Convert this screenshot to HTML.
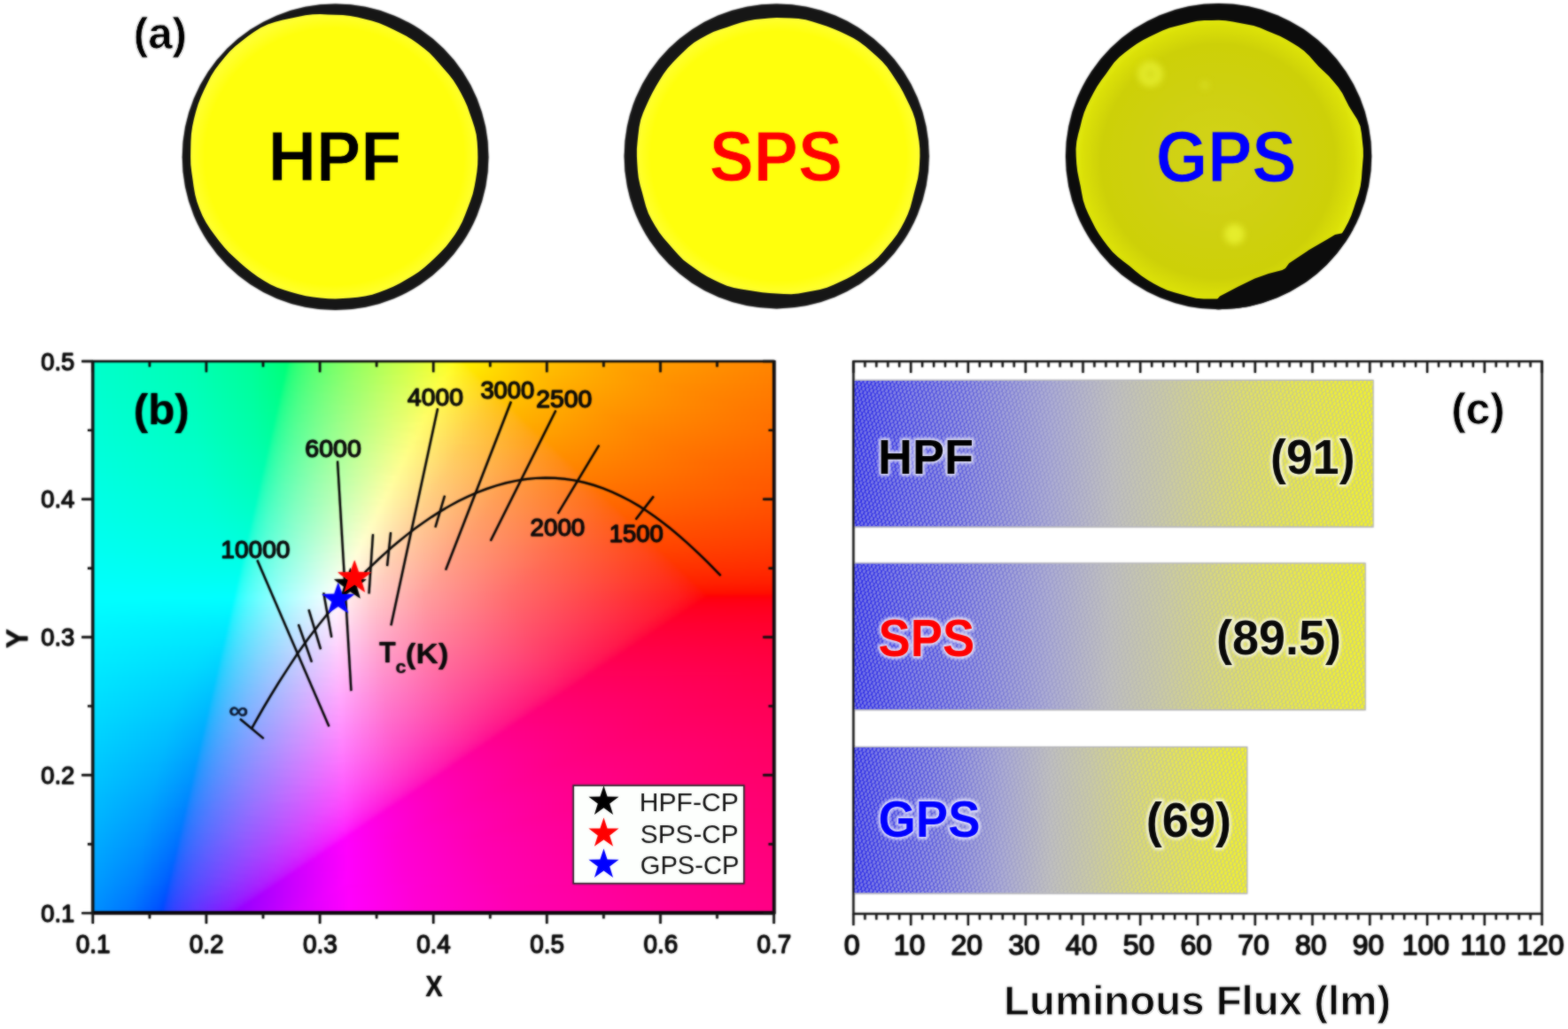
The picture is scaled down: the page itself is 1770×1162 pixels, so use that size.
<!DOCTYPE html>
<html lang="en"><head><meta charset="utf-8"><title>Figure</title>
<style>
html,body{margin:0;padding:0;background:#fff;overflow:hidden}
#fig{position:relative;width:1770px;height:1162px;overflow:hidden;background:#fff;font-family:"Liberation Sans", Arial, Helvetica, sans-serif}
.cf i{display:block;height:3px}
svg{position:absolute;left:0;top:0}
svg text{font-family:"Liberation Sans", Arial, Helvetica, sans-serif}
</style></head><body>
<div id="fig">
<div style="position:absolute;left:104.8px;top:408.0px;width:768.8000000000001px;height:623.0999999999999px;overflow:hidden">
<div class="cf" style="position:absolute;left:-9px;top:-9px;width:786.8000000000001px;filter:blur(1.5px)">
<i style="background:linear-gradient(90deg,#00ffcb 0px,#00ffb3 121px,#00ff95 189px,#00ff76 228px,#00ff72 231px,#13ff71 233px,#2eff70 240px,#55ff6b 259px,#8cff5e 300px,#d6ff3c 373px,#f4ff20 406px,#feff0c 416px,#fffe00 418px,#ffd600 475px,#ffb200 564px,#ff9100 706px,#ff8400 787px)"></i>
<i style="background:linear-gradient(90deg,#0fc 0px,#00ffb3 121px,#00ff96 189px,#00ff76 228px,#00ff74 230px,#17ff73 233px,#32ff71 241px,#5bff6b 262px,#95ff5d 307px,#dbff3c 377px,#f9ff1f 410px,#fffc0c 419px,#fffa00 421px,#ffd200 480px,#ffae00 572px,#ff8e00 720px,#ff8400 787px)"></i>
<i style="background:linear-gradient(90deg,#0fc 0px,#00ffb4 121px,#00ff97 189px,#0f7 228px,#00ff75 230px,#0fff74 231px,#26ff73 236px,#4aff6f 251px,#7cff66 285px,#c9ff49 357px,#f4ff2a 403px,#fffc17 417px,#fff709 423px,#fff500 425px,#ffce00 486px,#fa0 582px,#ff8a00 737px,#ff8300 787px)"></i>
<i style="background:linear-gradient(90deg,#00ffcd 0px,#00ffb4 121px,#00ff97 189px,#00ff78 228px,#0f7 229px,#14ff76 231px,#2eff74 238px,#55ff6f 257px,#8dff63 298px,#dbff42 375px,#feff24 412px,#fff40c 425px,#fff100 428px,#ffcb00 491px,#ffa700 590px,#ff8700 751px,#ff8200 787px)"></i>
<i style="background:linear-gradient(90deg,#00ffcd 0px,#00ffb5 121px,#00ff98 189px,#00ff78 228px,#17ff77 231px,#33ff75 239px,#5cff70 260px,#96ff62 305px,#e1ff41 380px,#fffd25 414px,#fff00d 428px,#fe0 431px,#ffc700 496px,#ffa400 599px,#ff8400 767px,#ff8100 787px)"></i>
<i style="background:linear-gradient(90deg,#00ffce 0px,#00ffb5 121px,#0f9 189px,#00ff7a 227px,#03ff79 228px,#0fff79 229px,#26ff78 234px,#4aff74 249px,#7dff6b 283px,#cbff50 355px,#fcff30 407px,#fff117 426px,#ffec0a 432px,#ffea00 434px,#ffc400 500px,#ffa100 605px,#ff8200 777px,#ff8100 787px)"></i>
<i style="background:linear-gradient(90deg,#00ffce 0px,#00ffb6 122px,#0f9 189px,#00ff7b 227px,#0dff7a 228px,#22ff79 232px,#44ff76 245px,#74ff6e 275px,#bbff59 338px,#f7ff38 400px,#fffc2e 412px,#ffea12 432px,#ffe706 436px,#ffe700 437px,#ffc100 505px,#ff9e00 614px,#ff8000 787px)"></i>
<i style="background:linear-gradient(90deg,#00ffce 0px,#00ffb6 122px,#00ff9a 189px,#00ff7d 226px,#18ff7b 229px,#33ff7a 237px,#5cff74 258px,#97ff67 303px,#e8ff46 383px,#fffd33 410px,#ffe814 434px,#ffe406 439px,#ffe300 440px,#ffbe00 510px,#ff9b00 622px,#ff7f00 787px)"></i>
<i style="background:linear-gradient(90deg,#00ffcf 0px,#00ffb7 122px,#00ff9b 189px,#00ff7e 225px,#04ff7d 226px,#10ff7d 227px,#27ff7c 232px,#4bff78 247px,#7eff70 281px,#cdff57 353px,#fffd37 408px,#ffe515 436px,#ffe107 442px,#ffe000 443px,#fb0 516px,#ff9800 631px,#ff7e00 787px)"></i>
<i style="background:linear-gradient(90deg,#00ffcf 0px,#00ffb7 122px,#00ff9b 189px,#00ff7f 225px,#0dff7f 226px,#22ff7e 230px,#44ff7b 243px,#75ff73 273px,#bdff5f 336px,#feff3e 403px,#ffe319 437px,#ffdd07 445px,#ffdc00 446px,#ffb700 521px,#ff9600 639px,#ff7d00 787px)"></i>
<i style="background:linear-gradient(90deg,#00ffd0 0px,#00ffb8 122px,#00ff9c 189px,#00ff81 224px,#18ff80 227px,#34ff7e 235px,#5dff79 256px,#98ff6d 301px,#efff4a 386px,#fffc3d 406px,#ffdf17 441px,#ffda08 448px,#ffd900 449px,#ffb400 526px,#ff9300 648px,#ff7d00 787px)"></i>
<i style="background:linear-gradient(90deg,#00ffd0 0px,#00ffb9 122px,#00ff9d 189px,#00ff82 223px,#06ff82 224px,#17ff81 226px,#33ff7f 234px,#5bff7b 254px,#96ff6f 298px,#efff4d 385px,#fffd41 404px,#ffdc18 443px,#ffd708 451px,#ffd500 453px,#ffb100 532px,#ff9000 658px,#ff7c00 787px)"></i>
<i style="background:linear-gradient(90deg,#00ffd1 0px,#00ffb9 122px,#00ff9d 189px,#00ff83 223px,#0eff83 224px,#23ff82 228px,#45ff7f 241px,#76ff78 271px,#beff65 334px,#fffd45 402px,#ffda1a 445px,#ffd408 454px,#ffd200 456px,#ffae00 537px,#ff8d00 667px,#ff7b00 787px)"></i>
<i style="background:linear-gradient(90deg,#00ffd1 0px,#00ffba 122px,#00ff9e 189px,#00ff85 222px,#13ff84 224px,#2cff83 230px,#52ff7f 247px,#88ff76 284px,#dfff5b 365px,#fffd48 401px,#ffd61a 448px,#ffd009 457px,#ffcf00 459px,#ffab00 542px,#ff8b00 676px,#ff7a00 787px)"></i>
<i style="background:linear-gradient(90deg,#00ffd2 0px,#00ffba 123px,#00ff9e 190px,#00ff87 221px,#17ff85 224px,#34ff84 232px,#5cff7f 252px,#96ff74 295px,#f5ff52 387px,#fffc4a 400px,#ffd41b 450px,#ffcd09 460px,#fc0 462px,#ffa900 547px,#f80 685px,#ff7900 787px)"></i>
<i style="background:linear-gradient(90deg,#00ffd2 0px,#0fb 123px,#00ff9f 190px,#00ff87 221px,#0eff87 222px,#23ff86 226px,#46ff84 239px,#77ff7d 269px,#c0ff6b 332px,#fffd4e 398px,#ffd11b 453px,#ffca09 463px,#ffc900 465px,#ffa600 553px,#ff8600 695px,#ff7900 787px)"></i>
<i style="background:linear-gradient(90deg,#00ffd2 0px,#0fb 123px,#00ff9f 190px,#00ff89 220px,#14ff88 222px,#2cff87 228px,#53ff84 245px,#89ff7b 282px,#e1ff61 363px,#fffd51 396px,#ffce1c 455px,#ffc709 466px,#ffc600 468px,#ffa300 558px,#ff8300 704px,#ff7800 787px)"></i>
<i style="background:linear-gradient(90deg,#00ffd3 0px,#00ffbc 123px,#00ffa0 190px,#00ff8b 219px,#18ff8a 222px,#34ff88 230px,#5dff84 250px,#97ff79 293px,#fcff57 389px,#fff44c 404px,#ffcb1b 459px,#ffc50a 469px,#ffc300 471px,#ffa100 563px,#ff8100 713px,#f70 787px)"></i>
<i style="background:linear-gradient(90deg,#00ffd3 0px,#00ffbc 123px,#00ffa1 190px,#00ff8c 219px,#0fff8b 220px,#27ff8a 225px,#4aff88 239px,#7dff80 271px,#cbff6d 339px,#fffd57 393px,#ffcd23 454px,#ffc20c 471px,#ffc100 474px,#ff9e00 568px,#ff7f00 722px,#ff7600 787px)"></i>
<i style="background:linear-gradient(90deg,#00ffd4 0px,#00ffbd 123px,#00ffa2 190px,#00ff8d 218px,#14ff8d 220px,#2dff8b 226px,#54ff88 243px,#8aff80 280px,#e3ff67 361px,#fffd59 392px,#ffcd28 452px,#ffc00f 473px,#ffbe07 476px,#ffbe00 477px,#ff9c00 573px,#ff7d00 732px,#ff7500 787px)"></i>
<i style="background:linear-gradient(90deg,#00ffd4 0px,#00ffbd 124px,#00ffa2 190px,#00ff8f 217px,#18ff8e 220px,#35ff8c 228px,#5eff88 248px,#99ff7e 291px,#ffff5e 388px,#ffcf2f 447px,#ffbe12 474px,#ffbc07 479px,#fb0 481px,#f90 580px,#ff7a00 744px,#ff7500 787px)"></i>
<i style="background:linear-gradient(90deg,#00ffd5 0px,#00ffbe 124px,#00ffa3 190px,#01ff90 217px,#10ff90 218px,#28ff8f 223px,#4bff8c 237px,#7eff85 269px,#cdff73 337px,#fffd5e 389px,#ffcc2f 449px,#ffbc12 477px,#ffb700 485px,#ff9600 587px,#f70 757px,#ff7400 787px)"></i>
<i style="background:linear-gradient(90deg,#00ffd5 0px,#00ffbf 124px,#00ffa4 190px,#00ff91 216px,#0dff91 217px,#23ff90 221px,#44ff8e 233px,#74ff88 261px,#bcff7a 320px,#fffd61 387px,#ffcd34 446px,#ffba14 479px,#ffb608 485px,#ffb500 487px,#ff9400 591px,#ff7500 765px,#ff7300 787px)"></i>
<i style="background:linear-gradient(90deg,#00ffd6 0px,#00ffbf 124px,#00ffa5 190px,#00ff93 215px,#19ff92 218px,#35ff91 226px,#5eff8d 246px,#9aff83 289px,#fffe65 384px,#ffcf39 442px,#ffb715 481px,#ffb408 488px,#ffb300 490px,#ff9100 596px,#ff7300 774px,#ff7200 787px)"></i>
<i style="background:linear-gradient(90deg,#00ffd6 0px,#00ffc0 124px,#00ffa5 190px,#00ff95 214px,#04ff94 215px,#10ff94 216px,#28ff93 221px,#4cff90 235px,#7fff8a 267px,#cfff78 335px,#fffd67 384px,#ffcd3a 443px,#ffb517 483px,#ffb108 491px,#ffb000 493px,#ff8f00 601px,#ff7100 784px,#ff7100 787px)"></i>
<i style="background:linear-gradient(90deg,#00ffd7 0px,#00ffc0 125px,#00ffa6 191px,#00ff96 214px,#0eff95 215px,#24ff95 219px,#45ff92 231px,#75ff8d 259px,#beff7f 318px,#fffd69 383px,#ffcc3c 442px,#ffb317 486px,#ffae05 495px,#ffae00 496px,#ff8d00 607px,#ff7000 787px)"></i>
<i style="background:linear-gradient(90deg,#00ffd7 0px,#00ffc1 125px,#00ffa7 191px,#00ff97 213px,#19ff96 216px,#36ff95 224px,#5fff91 244px,#9bff88 287px,#ffff6d 379px,#ffcf42 436px,#ffb119 487px,#ffac09 497px,#ffab00 499px,#ff8b00 612px,#ff6f00 787px)"></i>
<i style="background:linear-gradient(90deg,#00ffd8 0px,#00ffc2 125px,#00ffa7 191px,#0f9 212px,#05ff98 213px,#17ff98 215px,#32ff97 222px,#5aff93 240px,#93ff8b 279px,#f6ff73 369px,#fffb6d 381px,#ffcb41 440px,#ffae19 490px,#ffa909 500px,#ffa800 502px,#f80 618px,#ff6e00 787px)"></i>
<i style="background:linear-gradient(90deg,#00ffd8 0px,#00ffc2 125px,#00ffa8 191px,#00ff9a 212px,#0eff9a 213px,#24ff99 217px,#46ff97 229px,#76ff92 257px,#bfff84 316px,#fffd70 378px,#ffcd45 436px,#ffac1a 492px,#ffa709 503px,#ffa600 505px,#ff8600 623px,#ff6e00 787px)"></i>
<i style="background:linear-gradient(90deg,#00ffd9 0px,#00ffc3 125px,#00ffa9 191px,#00ff9c 211px,#14ff9b 213px,#2eff9a 219px,#54ff97 235px,#8aff90 270px,#e2ff7d 347px,#fffc72 377px,#ffcc48 435px,#ffaa1a 495px,#ffa407 507px,#ffa400 508px,#ff8400 629px,#ff6d00 787px)"></i>
<i style="background:linear-gradient(90deg,#00ffd9 0px,#00ffc3 126px,#00ffa9 192px,#00ff9d 210px,#18ff9c 213px,#33ff9b 220px,#5bff98 238px,#94ff90 277px,#f9ff79 367px,#fffb73 377px,#ffcb49 435px,#ffa81b 497px,#ffa207 510px,#ffa100 513px,#ff8100 636px,#ff6c00 787px)"></i>
<i style="background:linear-gradient(90deg,#00ffda 0px,#00ffc4 126px,#0fa 192px,#00ff9e 210px,#0fff9e 211px,#25ff9d 215px,#46ff9b 227px,#77ff96 255px,#c1ff89 314px,#fffe78 373px,#ffce4f 429px,#ffa61c 499px,#ffa00a 513px,#ff9e00 517px,#ff7f00 644px,#ff6b00 787px)"></i>
<i style="background:linear-gradient(90deg,#00ffda 0px,#00ffc5 126px,#00ffab 192px,#00ffa0 209px,#14ff9f 211px,#2eff9e 217px,#54ff9c 233px,#8bff95 268px,#e5ff83 345px,#fffd7a 372px,#ffcd51 428px,#ffa31c 502px,#ff9d08 517px,#ff9c00 519px,#ff7d00 648px,#ff6a00 787px)"></i>
<i style="background:linear-gradient(90deg,#00ffdb 0px,#00ffc5 127px,#00ffab 193px,#00ffa1 208px,#18ffa1 211px,#33ff9f 218px,#5bff9c 236px,#95ff95 275px,#fcff7e 366px,#ffdf63 404px,#ffaf32 476px,#ff9d13 514px,#ff9a04 521px,#f90 523px,#ff7b00 655px,#ff6900 787px)"></i>
<i style="background:linear-gradient(90deg,#00ffdb 0px,#00ffc6 127px,#00ffac 193px,#00ffa2 208px,#0fffa2 209px,#25ffa2 213px,#47ffa0 225px,#79ff9b 253px,#c3ff8f 312px,#fffd7e 369px,#ffcd55 425px,#ff9f1c 507px,#ff9808 523px,#ff9700 525px,#ff7900 659px,#ff6800 787px)"></i>
<i style="background:linear-gradient(90deg,#00ffdc 0px,#00ffc7 127px,#00ffad 193px,#00ffa4 207px,#15ffa4 209px,#2fffa3 215px,#55ffa0 231px,#8cff9a 266px,#e8ff88 344px,#fffc80 368px,#ffcc57 424px,#ff9d1d 509px,#ff9608 526px,#ff9500 528px,#f70 665px,#ff6700 787px)"></i>
<i style="background:linear-gradient(90deg,#00ffdc 0px,#00ffc7 127px,#00ffae 193px,#00ffa6 206px,#19ffa5 209px,#34ffa4 216px,#5cffa1 234px,#97ff9a 273px,#ffff84 364px,#ffcf5b 419px,#ff9f26 502px,#ff950d 527px,#ff9300 531px,#ff7500 671px,#f60 787px)"></i>
<i style="background:linear-gradient(90deg,#0fd 0px,#00ffc8 128px,#00ffaf 193px,#00ffa7 206px,#10ffa7 207px,#26ffa6 211px,#48ffa4 223px,#7affa0 251px,#c5ff94 310px,#fffe85 364px,#ffcd5d 419px,#ff9e27 503px,#ff930e 529px,#ff9000 535px,#ff7300 679px,#ff6500 787px)"></i>
<i style="background:linear-gradient(90deg,#0fd 0px,#00ffc9 128px,#00ffb0 193px,#00ffa8 205px,#15ffa8 207px,#2fffa7 213px,#56ffa5 229px,#8eff9f 264px,#eaff8e 342px,#fffd87 363px,#ffcd5e 418px,#ff9d2a 502px,#ff910f 532px,#ff8e00 538px,#ff7100 685px,#ff6400 787px)"></i>
<i style="background:linear-gradient(90deg,#00ffde 0px,#00ffc9 128px,#00ffb1 193px,#0fa 204px,#19ffa9 207px,#38ffa8 215px,#63ffa5 235px,#a0ff9e 277px,#ffff8b 360px,#ffce62 415px,#ff9f2f 496px,#ff8f11 533px,#ff8d07 539px,#ff8c00 541px,#ff6f00 691px,#ff6300 787px)"></i>
<i style="background:linear-gradient(90deg,#00ffde 0px,#00ffca 129px,#00ffb1 194px,#02ffab 204px,#11ffab 205px,#2affaa 210px,#4fffa8 224px,#84ffa3 255px,#d7ff96 322px,#fffd8c 360px,#ffcd63 415px,#ff9d31 497px,#ff8d12 536px,#ff8a07 542px,#ff8a00 545px,#ff6c00 699px,#ff6200 787px)"></i>
<i style="background:linear-gradient(90deg,#00ffdf 0px,#00ffcb 129px,#00ffb2 194px,#00ffad 203px,#0effac 204px,#25ffac 208px,#48ffaa 220px,#79ffa6 247px,#c5ff9b 305px,#fffe8e 358px,#ffcd66 413px,#ff9e34 494px,#ff8b14 537px,#ff8807 545px,#ff8700 548px,#ff6a00 706px,#ff6100 787px)"></i>
<i style="background:linear-gradient(90deg,#00ffdf 0px,#00ffcb 130px,#00ffb3 195px,#00ffae 202px,#1affae 205px,#38ffad 213px,#64ffaa 233px,#a2ffa3 275px,#fffe91 356px,#ffce69 410px,#ff9f38 490px,#ff8a15 539px,#ff8607 548px,#ff8500 551px,#ff6900 712px,#ff6000 787px)"></i>
<i style="background:linear-gradient(90deg,#00ffe0 0px,#0fc 130px,#00ffb4 195px,#00ffb0 201px,#05ffaf 202px,#11ffaf 203px,#2affaf 208px,#50ffad 222px,#85ffa8 253px,#d9ff9c 320px,#fffc92 356px,#ffcd6a 410px,#ff9e39 490px,#ff8816 541px,#ff8408 551px,#ff8300 553px,#ff6700 717px,#ff5f00 787px)"></i>
<i style="background:linear-gradient(90deg,#00ffe0 0px,#00ffcd 130px,#00ffb5 195px,#00ffb1 201px,#0effb1 202px,#25ffb0 206px,#49ffaf 218px,#7affab 245px,#c7ffa1 303px,#fffd94 354px,#ffcd6c 408px,#ff9e3c 488px,#ff8616 544px,#ff8105 555px,#ff8100 557px,#ff6500 725px,#ff5e00 787px)"></i>
<i style="background:linear-gradient(90deg,#00ffe1 0px,#00ffcd 131px,#00ffb5 196px,#00ffb3 200px,#14ffb2 202px,#30ffb1 208px,#57ffaf 224px,#90ffaa 259px,#f0ff9b 337px,#fffc96 353px,#ffcc6e 407px,#ff9d3e 487px,#ff8417 546px,#ff8008 557px,#ff7f00 559px,#ff6300 730px,#ff5d00 787px)"></i>
<i style="background:linear-gradient(90deg,#00ffe2 0px,#00ffce 131px,#00ffb6 196px,#00ffb4 199px,#06ffb4 200px,#19ffb4 202px,#35ffb3 209px,#5fffb0 227px,#9bffab 266px,#ffff9b 349px,#ffce71 403px,#ff9f43 481px,#ff8319 547px,#ff7e08 560px,#ff7d00 562px,#ff6100 736px,#ff5c00 787px)"></i>
<i style="background:linear-gradient(90deg,#00ffe2 0px,#00ffcf 132px,#00ffb7 196px,#00ffb5 199px,#0fffb5 200px,#26ffb5 204px,#49ffb3 216px,#7bffb0 243px,#c9ffa6 301px,#fffe9b 349px,#ffcd73 402px,#ff9e44 480px,#ff8019 550px,#ff7c08 563px,#ff7b00 565px,#ff5f00 743px,#ff5b00 787px)"></i>
<i style="background:linear-gradient(90deg,#00ffe3 0px,#00ffd0 132px,#00ffb8 197px,#00ffb7 198px,#15ffb7 200px,#30ffb6 206px,#58ffb4 222px,#90ffaf 256px,#f0ffa2 333px,#fffd9d 348px,#ffcd74 401px,#ff9e46 479px,#ff7f1a 552px,#ff7909 566px,#ff7900 569px,#ff5d00 752px,#ff5a00 787px)"></i>
<i style="background:linear-gradient(90deg,#00ffe3 0px,#00ffd0 133px,#00ffb9 197px,#19ffb8 200px,#36ffb7 207px,#60ffb5 225px,#9bffb0 263px,#ffffa1 345px,#ffce78 397px,#ff9f4a 474px,#ff7d1b 554px,#ff7709 569px,#ff7600 573px,#ff5b00 761px,#ff5900 787px)"></i>
<i style="background:linear-gradient(90deg,#00ffe4 0px,#00ffd1 133px,#00ffba 197px,#10ffba 198px,#27ffb9 202px,#4affb8 214px,#7dffb4 241px,#cbffac 299px,#fffda1 345px,#ffcd79 397px,#ff9e4b 474px,#ff7b1a 557px,#ff7509 572px,#ff7400 576px,#ff5a00 768px,#ff5800 787px)"></i>
<i style="background:linear-gradient(90deg,#00ffe4 0px,#00ffd2 134px,#00ffbc 196px,#15ffbb 198px,#31ffba 204px,#59ffb9 220px,#92ffb4 254px,#f4ffa7 332px,#fffca3 344px,#ffcd7a 396px,#ff9d4d 473px,#ff791b 559px,#ff7309 575px,#ff7200 579px,#ff5800 775px,#ff5700 787px)"></i>
<i style="background:linear-gradient(90deg,#00ffe5 0px,#00ffd3 134px,#00ffbd 195px,#1affbd 198px,#36ffbc 205px,#61ffba 223px,#9dffb5 261px,#fffea7 341px,#ffce7e 392px,#ff9f51 468px,#ff771c 561px,#ff7109 578px,#ff7000 582px,#ff5600 782px,#f50 787px)"></i>
<i style="background:linear-gradient(90deg,#00ffe6 0px,#00ffd3 135px,#00ffbe 195px,#10ffbe 196px,#27ffbe 200px,#4bffbd 212px,#7effb9 239px,#cdffb1 297px,#fffea8 340px,#ffce7f 391px,#ff9e52 467px,#ff751c 564px,#ff6f0a 581px,#ff6e00 585px,#ff5400 787px)"></i>
<i style="background:linear-gradient(90deg,#00ffe6 0px,#00ffd4 136px,#00ffc0 194px,#16ffc0 196px,#31ffbf 202px,#5affbd 218px,#93ffb9 252px,#f6ffad 330px,#fffca9 340px,#ffcb80 392px,#ff9c52 469px,#ff731c 567px,#ff6d08 585px,#ff6c00 587px,#ff5300 787px)"></i>
<i style="background:linear-gradient(90deg,#00ffe7 0px,#00ffd5 136px,#00ffc2 193px,#1affc1 196px,#37ffc0 203px,#62ffbe 221px,#9fffba 259px,#ffffae 336px,#ffcf84 386px,#ff9f58 460px,#ff711d 569px,#ff6b0a 587px,#ff6a00 591px,#ff5200 787px)"></i>
<i style="background:linear-gradient(90deg,#00ffe7 0px,#00ffd6 137px,#00ffc3 193px,#11ffc3 194px,#28ffc2 198px,#4cffc1 210px,#7fffbe 237px,#cfffb6 295px,#fffdae 336px,#ffcd85 386px,#ff9e59 460px,#ff6f1c 572px,#ff6908 591px,#ff6800 593px,#ff5100 787px)"></i>
<i style="background:linear-gradient(90deg,#00ffe8 0px,#00ffd6 138px,#00ffc5 192px,#0effc4 193px,#27ffc4 197px,#49ffc3 208px,#7affc0 233px,#c6ffba 286px,#fffeb1 334px,#ffce87 384px,#ff9e5b 458px,#ff6d1c 575px,#ff6708 594px,#f60 597px,#ff5000 787px)"></i>
<i style="background:linear-gradient(90deg,#00ffe8 0px,#00ffd7 138px,#00ffc6 191px,#1bffc6 194px,#38ffc5 201px,#63ffc3 219px,#a0ffbf 257px,#fffeb4 332px,#ffce8a 381px,#ff9f5e 454px,#ff6d1f 574px,#ff650a 596px,#ff6400 601px,#ff4e00 787px)"></i>
<i style="background:linear-gradient(90deg,#00ffe9 0px,#00ffd8 139px,#00ffc8 190px,#04ffc8 191px,#12ffc8 192px,#28ffc7 196px,#4dffc6 208px,#81ffc3 235px,#d2ffbc 293px,#fffeb5 331px,#ffce8c 380px,#ff9e5f 453px,#ff6c22 573px,#ff630c 598px,#ff6200 604px,#ff4d00 787px)"></i>
<i style="background:linear-gradient(90deg,#00ffea 0px,#00ffd9 140px,#00ffc9 190px,#0fffc9 191px,#27ffc9 195px,#4affc8 206px,#7bffc5 231px,#c8ffbf 284px,#fffdb7 330px,#ffcd8d 379px,#ff9e61 452px,#ff6b24 572px,#ff610c 601px,#ff6000 607px,#ff4c00 787px)"></i>
<i style="background:linear-gradient(90deg,#00ffea 0px,#00ffd9 141px,#00ffcb 189px,#15ffcb 191px,#2effca 196px,#55ffc9 210px,#8cffc6 240px,#e7ffbe 307px,#fffcb9 329px,#ffcd8f 378px,#ff9d62 451px,#ff6b26 571px,#ff600e 603px,#ff5d00 610px,#ff4b00 787px)"></i>
<i style="background:linear-gradient(90deg,#00ffeb 0px,#00ffda 142px,#00ffcd 188px,#05ffcc 189px,#12ffcc 190px,#29ffcc 194px,#4effcb 206px,#82ffc8 233px,#d4ffc2 291px,#fffdbb 327px,#ffcd91 376px,#ff9d65 448px,#ff6b2a 567px,#ff5e0f 605px,#ff5b00 613px,#ff4900 787px)"></i>
<i style="background:linear-gradient(90deg,#00ffeb 0px,#00ffdb 143px,#00ffce 188px,#10ffce 189px,#28ffce 193px,#4bffcd 204px,#7dffca 229px,#caffc5 282px,#fffebe 325px,#ffce94 373px,#ff9e68 444px,#ff6c2f 561px,#ff5c11 606px,#ff5900 616px,#ff4800 787px)"></i>
<i style="background:linear-gradient(90deg,#00ffec 0px,#00ffdc 143px,#00ffd0 187px,#16ffcf 189px,#2fffcf 194px,#56ffce 208px,#8dffcb 238px,#e9ffc4 305px,#fffdbf 324px,#ffcd95 372px,#ff9e69 443px,#ff6b31 560px,#ff5b12 608px,#ff5805 617px,#ff5700 619px,#ff4700 787px)"></i>
<i style="background:linear-gradient(90deg,#00ffed 0px,#0fd 145px,#00ffd1 186px,#07ffd1 187px,#1affd1 189px,#38ffd0 196px,#62ffcf 213px,#a1ffcc 250px,#ffffc3 321px,#ffcf99 368px,#ff9f6c 438px,#ff6d36 553px,#ff5914 609px,#ff5605 620px,#f50 621px,#ff4500 787px)"></i>
<i style="background:linear-gradient(90deg,#00ffed 0px,#00ffde 146px,#00ffd3 186px,#10ffd3 187px,#28ffd2 191px,#4bffd2 202px,#7effcf 227px,#ceffca 281px,#fffdc4 321px,#ffcd99 369px,#ff9d6c 440px,#ff6a35 557px,#ff5714 612px,#ff5405 623px,#ff5300 624px,#f40 787px)"></i>
<i style="background:linear-gradient(90deg,#0fe 0px,#00ffdf 147px,#00ffd5 185px,#16ffd4 187px,#2fffd4 192px,#57ffd3 206px,#8fffd0 236px,#ecffca 303px,#fffcc5 320px,#ffcc9a 368px,#ff9c6e 439px,#ff6a36 556px,#ff5514 615px,#ff5106 626px,#ff5100 629px,#ff4200 787px)"></i>
<i style="background:linear-gradient(90deg,#00ffef 0px,#00ffdf 148px,#00ffd6 184px,#1bffd6 187px,#39ffd5 194px,#64ffd4 211px,#a1ffd1 247px,#fffec9 317px,#ffce9e 364px,#ff9e71 433px,#ff6c3c 547px,#ff5417 615px,#ff4f06 629px,#ff4f00 632px,#ff4100 787px)"></i>
<i style="background:linear-gradient(90deg,#00ffef 0px,#00ffe0 149px,#00ffd8 184px,#11ffd8 185px,#29ffd7 189px,#4cffd7 200px,#80ffd5 225px,#d0ffd0 279px,#fffecb 316px,#ffcea0 362px,#ff9f74 430px,#ff6d3f 542px,#ff5217 617px,#ff4d06 632px,#ff4d00 635px,#ff3f00 787px)"></i>
<i style="background:linear-gradient(90deg,#00fff0 0px,#00ffe1 151px,#00ffd9 183px,#17ffd9 185px,#34ffd9 191px,#5cffd8 206px,#97ffd5 238px,#ffffce 313px,#ffcda1 361px,#ff9e75 429px,#ff6c40 542px,#ff5018 619px,#ff4b06 635px,#ff4a00 638px,#ff3e00 787px)"></i>
<i style="background:linear-gradient(90deg,#00fff1 0px,#00ffe2 152px,#00ffdb 182px,#1cffdb 185px,#3affda 192px,#65ffd9 209px,#a3ffd7 245px,#fffecf 313px,#ffcda4 359px,#ff9e77 427px,#ff6c43 539px,#ff4f19 621px,#ff4907 638px,#ff4800 641px,#ff3c00 787px)"></i>
<i style="background:linear-gradient(90deg,#00fff1 0px,#00ffe3 154px,#0fd 182px,#12ffdd 183px,#2affdc 187px,#4dffdc 198px,#81ffda 223px,#d2ffd6 277px,#fffdd1 312px,#ffcda5 358px,#ff9d78 426px,#ff6b44 538px,#ff4c19 624px,#ff4707 641px,#ff4600 644px,#ff3b00 787px)"></i>
<i style="background:linear-gradient(90deg,#00fff2 0px,#00ffe4 155px,#00ffde 181px,#0effde 182px,#24ffde 185px,#44ffde 194px,#74ffdc 215px,#bcffd9 260px,#fffed4 310px,#ffcea8 355px,#ff9e7b 422px,#ff6c48 532px,#ff4b1a 625px,#ff4507 644px,#f40 647px,#ff3900 787px)"></i>
<i style="background:linear-gradient(90deg,#00fff2 0px,#00ffe5 157px,#00ffe0 180px,#1cffe0 183px,#3affdf 190px,#66ffde 207px,#a5ffdc 243px,#fffed6 308px,#ffceaa 353px,#ff9f7e 419px,#ff6c4a 528px,#ff491b 627px,#ff4207 647px,#ff4200 650px,#ff3700 787px)"></i>
<i style="background:linear-gradient(90deg,#00fff3 0px,#00ffe6 159px,#02ffe2 180px,#12ffe2 181px,#2affe1 185px,#4effe1 196px,#82ffdf 221px,#d5ffdc 275px,#fffed8 307px,#ffcdac 352px,#ff9e7f 418px,#ff6c4c 527px,#ff471b 630px,#ff4007 650px,#ff3f00 653px,#ff3600 787px)"></i>
<i style="background:linear-gradient(90deg,#00fff4 0px,#00ffe7 161px,#00ffe3 179px,#0fffe3 180px,#24ffe3 183px,#45ffe3 192px,#75ffe2 213px,#bfffdf 258px,#fffdda 306px,#ffcdad 351px,#ff9d80 417px,#ff6b4d 526px,#ff451b 633px,#ff3e08 653px,#ff3d00 656px,#ff3400 787px)"></i>
<i style="background:linear-gradient(90deg,#00fff5 0px,#00ffe8 163px,#00ffe5 178px,#16ffe5 180px,#30ffe5 185px,#57ffe4 198px,#8fffe3 226px,#ecffdf 289px,#fffcdb 305px,#ffccae 350px,#ff9d81 416px,#ff6a4e 526px,#ff431b 635px,#ff3b08 656px,#ff3a00 660px,#ff3200 787px)"></i>
<i style="background:linear-gradient(90deg,#00fff5 0px,#00ffe9 166px,#00ffe7 177px,#05ffe7 178px,#13ffe7 179px,#2bffe7 183px,#4fffe6 194px,#84ffe5 219px,#d8ffe2 273px,#fffdde 303px,#ffcdb1 347px,#ff9e84 413px,#ff6b51 520px,#ff411c 637px,#ff3908 659px,#ff3800 663px,#ff3000 787px)"></i>
<i style="background:linear-gradient(90deg,#00fff6 0px,#00ffea 168px,#00ffe9 177px,#10ffe8 178px,#25ffe8 181px,#46ffe8 190px,#77ffe7 211px,#c1ffe5 256px,#fffee1 301px,#ffcdb4 345px,#ff9e86 411px,#ff6b53 517px,#ff3e1c 640px,#ff3608 662px,#ff3500 666px,#ff2e00 787px)"></i>
<i style="background:linear-gradient(90deg,#00fff7 0px,#00ffeb 171px,#00ffea 176px,#16ffea 178px,#31ffea 183px,#58ffea 196px,#90ffe8 224px,#f1ffe5 288px,#fffde3 300px,#ffcdb5 344px,#ff9d87 410px,#ff6a54 516px,#ff3c1c 643px,#ff3408 665px,#f30 669px,#ff2c00 787px)"></i>
<i style="background:linear-gradient(90deg,#00fff7 0px,#00ffec 175px,#06ffec 176px,#14ffec 177px,#2cffec 181px,#50ffeb 192px,#86ffeb 217px,#daffe8 271px,#fffee6 298px,#ffceb8 341px,#ff9f8b 405px,#ff6c59 507px,#ff3a1c 645px,#ff3108 668px,#ff3000 672px,#ff2a00 787px)"></i>
<i style="background:linear-gradient(90deg,#00fff8 0px,#0fe 175px,#1fe 176px,#2affee 180px,#50ffed 191px,#84ffec 215px,#d7ffeb 267px,#fffde7 297px,#ffcdb9 340px,#ff9e8c 404px,#ff6b59 507px,#ff371c 648px,#ff2e09 671px,#ff2d00 675px,#ff2700 787px)"></i>
<i style="background:linear-gradient(90deg,#00fff9 0px,#00fff0 174px,#17ffef 176px,#32ffef 181px,#59ffef 194px,#92ffee 222px,#f4ffec 286px,#fffce9 296px,#fcb 339px,#ff9d8d 403px,#ff6a5b 506px,#ff351d 650px,#ff2c09 674px,#ff2a00 678px,#ff2500 787px)"></i>
<i style="background:linear-gradient(90deg,#00fff9 0px,#00fff1 173px,#1cfff1 176px,#39fff1 182px,#63fff1 197px,#a0fff0 229px,#fffeed 293px,#ffcebf 335px,#ff9f91 398px,#ff6c5f 498px,#ff321d 653px,#ff2909 677px,#ff2700 681px,#f20 787px)"></i>
<i style="background:linear-gradient(90deg,#00fffa 0px,#00fff3 173px,#12fff3 174px,#2bfff3 178px,#51fff3 189px,#85fff2 213px,#d9fff1 265px,#fffeef 292px,#ffcdc0 334px,#ff9e92 397px,#ff6c60 497px,#ff301d 656px,#ff2509 680px,#ff2400 684px,#ff2000 787px)"></i>
<i style="background:linear-gradient(90deg,#00fffb 0px,#00fff5 172px,#18fff5 174px,#33fff5 179px,#5bfff5 192px,#94fff4 220px,#f9fff3 285px,#fffbef 292px,#ffccc1 334px,#ff9d93 397px,#ff6a60 498px,#ff2d1d 659px,#ff2209 683px,#ff2100 688px,#ff1d00 787px)"></i>
<i style="background:linear-gradient(90deg,#00fffc 0px,#00fff7 171px,#1dfff7 174px,#39fff7 180px,#64fff6 195px,#a2fff6 227px,#fffff5 288px,#ffcfc6 329px,#ffa097 390px,#ff6d66 487px,#ff2a1d 662px,#ff1e09 686px,#ff1d00 691px,#ff1900 787px)"></i>
<i style="background:linear-gradient(90deg,#00fffc 0px,#00fff9 171px,#12fff9 172px,#2cfff9 176px,#52fff8 187px,#87fff8 211px,#dcfff8 263px,#fffdf5 288px,#ffcdc6 329px,#ff9e97 391px,#ff6b65 490px,#ff271d 665px,#ff1a09 689px,#ff1800 694px,#ff1500 787px)"></i>
<i style="background:linear-gradient(90deg,#00fffd 0px,#00fffa 170px,#0ffffa 171px,#25fffa 174px,#48fffa 183px,#79fffa 203px,#c4fffa 246px,#fffef8 286px,#ffcdc9 327px,#ff9e9a 388px,#ff6c68 485px,#ff231c 668px,#ff1508 693px,#ff1300 697px,#f10 787px)"></i>
<i style="background:linear-gradient(90deg,#00fffe 0px,#00fffc 169px,#1efffc 172px,#3afffc 178px,#65fffc 193px,#a4fffc 225px,#fffefb 284px,#ffcfcc 324px,#ff9f9d 384px,#ff6d6b 479px,#ff201c 671px,#ff0f08 696px,#ff0d00 700px,#ff0b00 787px)"></i>
<i style="background:linear-gradient(90deg,#0ff 0px,#00fffe 169px,#13fffe 170px,#2dfffe 174px,#53fffe 185px,#89fffe 209px,#e1fffe 262px,#fffefd 283px,#ffcecd 323px,#ff9e9e 383px,#ff6c6c 479px,#ff1d1e 672px,#ff090b 697px,#ff0006 702px,#ff0007 787px)"></i>
<i style="background:linear-gradient(90deg,#0ff 0px,#00feff 168px,#10feff 169px,#26feff 172px,#49feff 181px,#7afeff 201px,#c6feff 244px,#fffbfd 283px,#ffccce 323px,#ff9d9f 383px,#ff6b6c 479px,#ff1d21 668px,#ff0812 693px,#ff0010 697px,#ff000f 787px)"></i>
<i style="background:linear-gradient(90deg,#00feff 0px,#00fcff 167px,#1efcff 170px,#3efcff 177px,#6afcff 193px,#aafcff 227px,#fff9fd 283px,#ffc9cd 324px,#ff9a9e 385px,#ff686c 482px,#ff1c24 664px,#ff0918 688px,#ff0015 693px,#ff0014 787px)"></i>
<i style="background:linear-gradient(90deg,#00fdff 0px,#00faff 166px,#04faff 167px,#14faff 168px,#2dfaff 172px,#52faff 183px,#88faff 207px,#ddf9ff 259px,#fff7fd 283px,#ffc8cd 324px,#ff999e 385px,#ff676c 482px,#ff1d28 659px,#ff081c 684px,#ff001a 688px,#ff0018 787px)"></i>
<i style="background:linear-gradient(90deg,#00fcff 0px,#00f8ff 166px,#10f8ff 167px,#26f8ff 170px,#48f8ff 179px,#79f8ff 199px,#c3f7ff 242px,#fff5fe 283px,#ffc6ce 324px,#ff979e 386px,#ff656c 484px,#ff1d2b 655px,#ff0920 679px,#ff001e 684px,#ff001b 787px)"></i>
<i style="background:linear-gradient(90deg,#00fcff 0px,#00f7ff 165px,#17f6ff 167px,#32f6ff 172px,#5af6ff 185px,#94f6ff 213px,#f8f4ff 277px,#fff1fc 284px,#ffc2cc 326px,#ff949d 389px,#ff616a 490px,#ff1d2e 651px,#ff0823 675px,#f02 679px,#ff001e 787px)"></i>
<i style="background:linear-gradient(90deg,#00fbff 0px,#00f5ff 164px,#06f5ff 165px,#14f5ff 166px,#2cf5ff 170px,#51f4ff 181px,#86f4ff 205px,#daf2ff 257px,#ffeffc 284px,#ffc1cd 326px,#ff929e 389px,#ff5f6b 490px,#ff1d31 646px,#ff0927 670px,#ff0025 675px,#ff0021 787px)"></i>
<i style="background:linear-gradient(90deg,#00faff 0px,#00f3ff 164px,#11f3ff 165px,#26f3ff 168px,#48f3ff 177px,#79f2ff 198px,#c4f1ff 242px,#ffedfd 284px,#ffbfcd 326px,#ff919e 389px,#ff5e6c 490px,#ff1d33 642px,#ff092a 666px,#ff0028 670px,#ff0024 787px)"></i>
<i style="background:linear-gradient(90deg,#00f9ff 0px,#00f1ff 163px,#17f1ff 165px,#32f1ff 170px,#5af0ff 183px,#92f0ff 211px,#f4edff 275px,#ffebfd 284px,#ffbdcd 326px,#ff8f9f 389px,#ff5d6c 490px,#ff1d36 638px,#ff092d 661px,#ff002b 666px,#ff0026 787px)"></i>
<i style="background:linear-gradient(90deg,#00f9ff 0px,#00efff 162px,#07efff 163px,#14efff 164px,#2cefff 168px,#51efff 179px,#87eeff 204px,#dcecff 258px,#ffe9fd 284px,#ffbacd 327px,#ff8d9e 391px,#ff5a6c 493px,#ff1d38 634px,#ff092f 657px,#ff002e 661px,#ff0028 787px)"></i>
<i style="background:linear-gradient(90deg,#00f8ff 0px,#0ef 162px,#11edff 163px,#2bedff 167px,#50edff 178px,#84ecff 202px,#d6eaff 254px,#ffe7fd 284px,#ffb9cd 327px,#ff8b9e 391px,#ff596c 493px,#ff1c3a 630px,#ff0832 653px,#ff0031 657px,#ff002b 787px)"></i>
<i style="background:linear-gradient(90deg,#00f7ff 0px,#00ecff 161px,#17ecff 163px,#32ebff 168px,#59ebff 181px,#91eaff 209px,#f0e7ff 272px,#ffe3fc 285px,#ffb5cc 329px,#ff879c 395px,#ff546a 500px,#ff1c3d 626px,#ff0935 648px,#ff0034 652px,#ff002d 787px)"></i>
<i style="background:linear-gradient(90deg,#00f6ff 0px,#00eaff 158px,#00eaff 160px,#1ceaff 163px,#3beaff 170px,#68e9ff 187px,#a8e7ff 223px,#ffe2fe 284px,#ffb5ce 327px,#ff889f 392px,#ff556d 495px,#ff1c3f 622px,#ff0837 644px,#ff0036 648px,#ff002e 787px)"></i>
<i style="background:linear-gradient(90deg,#00f5ff 0px,#00e9ff 155px,#00e8ff 160px,#11e8ff 161px,#2ae8ff 165px,#4fe8ff 176px,#82e6ff 200px,#d4e3ff 252px,#ffe0fe 284px,#ffb3ce 328px,#ff859e 394px,#ff526c 499px,#ff1c41 618px,#ff093a 639px,#ff0039 643px,#ff0030 787px)"></i>
<i style="background:linear-gradient(90deg,#00f5ff 0px,#00e8ff 151px,#00e7ff 159px,#17e6ff 161px,#31e6ff 166px,#58e6ff 179px,#91e4ff 208px,#f1e0ff 273px,#ffddfd 285px,#ffb0cd 329px,#ff839e 395px,#ff506c 501px,#ff1c43 614px,#ff083c 635px,#ff003b 639px,#ff0032 787px)"></i>
<i style="background:linear-gradient(90deg,#00f4ff 0px,#00e7ff 148px,#00e5ff 158px,#1ce5ff 161px,#3be4ff 168px,#67e3ff 185px,#a7e1ff 221px,#ffdcfe 284px,#ffafce 328px,#ff829f 394px,#ff4f6d 499px,#ff1b45 610px,#ff073e 631px,#ff003e 634px,#ff0034 787px)"></i>
<i style="background:linear-gradient(90deg,#00f3ff 0px,#00e6ff 145px,#00e3ff 158px,#12e3ff 159px,#2ae3ff 163px,#4ee2ff 174px,#83e1ff 199px,#d4ddff 252px,#ffd9fd 285px,#ffaccd 330px,#ff7f9e 397px,#ff4b6c 504px,#ff1b47 607px,#ff0841 626px,#ff0040 630px,#ff0035 787px)"></i>
<i style="background:linear-gradient(90deg,#00f2ff 0px,#00e5ff 143px,#00e1ff 157px,#0ee1ff 158px,#24e1ff 161px,#45e1ff 170px,#75dfff 191px,#bcdcff 235px,#ffd7fd 285px,#ffaacd 330px,#ff7e9e 397px,#ff4a6c 504px,#ff1a49 603px,#ff0743 622px,#ff0042 625px,#ff0037 787px)"></i>
<i style="background:linear-gradient(90deg,#00f2ff 0px,#00e4ff 140px,#00e0ff 156px,#1ce0ff 159px,#3adfff 166px,#66deff 183px,#a5dcff 219px,#ffd6fe 284px,#ffa9ce 329px,#ff7d9f 396px,#ff496d 503px,#ff1a4b 599px,#ff0945 617px,#f04 621px,#ff0039 787px)"></i>
<i style="background:linear-gradient(90deg,#00f1ff 0px,#00e2ff 138px,#01deff 156px,#12deff 157px,#2adeff 161px,#4eddff 172px,#81dbff 197px,#d2d7ff 250px,#ffd2fd 285px,#ffa7ce 330px,#ff7a9f 398px,#ff466d 506px,#ff1a4d 595px,#ff0847 613px,#ff0047 615px,#ff003a 787px)"></i>
<i style="background:linear-gradient(90deg,#00f0ff 0px,#00e1ff 135px,#00dcff 155px,#0fdcff 156px,#24dcff 159px,#44dbff 168px,#74daff 189px,#bcd7ff 234px,#ffd0fd 285px,#ffa4cd 331px,#ff779e 400px,#ff436c 510px,#ff194f 592px,#ff0749 609px,#ff0049 612px,#ff003c 787px)"></i>
<i style="background:linear-gradient(90deg,#00efff 0px,#00e0ff 133px,#00dbff 154px,#1cdaff 157px,#3adaff 164px,#65d9ff 181px,#a3d6ff 217px,#ffcefe 285px,#ffa3ce 331px,#ff769e 400px,#ff416c 510px,#ff1851 589px,#ff084c 604px,#ff004b 607px,#ff003d 787px)"></i>
<i style="background:linear-gradient(90deg,#0ef 0px,#00dfff 131px,#00d9ff 153px,#04d9ff 154px,#13d9ff 155px,#2ad9ff 159px,#4dd8ff 170px,#80d6ff 195px,#d1d1ff 249px,#ffcbfd 286px,#ff9fcc 333px,#ff739d 403px,#ff3d6b 516px,#ff1752 586px,#ff074e 600px,#ff004d 603px,#ff003e 787px)"></i>
<i style="background:linear-gradient(90deg,#0ef 0px,#00deff 129px,#00d7ff 153px,#0fd7ff 154px,#28d7ff 158px,#4cd6ff 169px,#7fd4ff 194px,#cecfff 247px,#ffc9fd 286px,#ff9ecd 333px,#ff719e 403px,#ff3b6b 516px,#ff1754 582px,#ff0650 596px,#ff004f 599px,#ff0040 787px)"></i>
<i style="background:linear-gradient(90deg,#00edff 0px,#0df 127px,#00d6ff 152px,#16d6ff 154px,#2fd5ff 159px,#55d4ff 172px,#8cd2ff 201px,#e6cbff 265px,#ffc7fd 286px,#ff9ccd 333px,#ff6f9e 404px,#ff396b 518px,#ff1656 579px,#ff0752 591px,#ff0051 594px,#ff0041 787px)"></i>
<i style="background:linear-gradient(90deg,#00ecff 0px,#00dcff 125px,#00d4ff 151px,#06d4ff 152px,#13d4ff 153px,#2ad4ff 157px,#4fd3ff 169px,#82d0ff 195px,#d4cbff 251px,#ffc5fd 286px,#ff9acd 333px,#ff6e9e 404px,#ff376c 518px,#ff1458 576px,#ff0654 587px,#ff0053 590px,#ff0042 787px)"></i>
<i style="background:linear-gradient(90deg,#00ebff 0px,#00dbff 124px,#00d3ff 151px,#10d2ff 152px,#28d2ff 156px,#4bd1ff 167px,#7ecfff 192px,#ccc9ff 245px,#ffc3fd 286px,#ff98cd 334px,#ff6b9d 406px,#ff336b 522px,#ff1359 573px,#ff0456 583px,#ff0056 585px,#f04 787px)"></i>
<i style="background:linear-gradient(90deg,#00eaff 0px,#00daff 122px,#00d1ff 150px,#16d1ff 152px,#2fd0ff 157px,#56cfff 171px,#8eccff 201px,#eac5ff 268px,#ffc0fc 287px,#ff95cc 335px,#ff699d 407px,#ff306b 523px,#ff125b 570px,#ff0658 578px,#ff0058 581px,#ff0045 787px)"></i>
<i style="background:linear-gradient(90deg,#00eaff 0px,#00d9ff 120px,#00d0ff 149px,#1acfff 152px,#38ceff 159px,#62cdff 176px,#a0c9ff 213px,#ffc0ff 285px,#ff95ce 333px,#ff699f 404px,#ff316e 518px,#ff125d 565px,#ff055a 574px,#ff005a 576px,#ff0046 787px)"></i>
<i style="background:linear-gradient(90deg,#00e9ff 0px,#00d7ff 119px,#00ceff 149px,#10ceff 150px,#28cdff 154px,#4bccff 165px,#7dcaff 190px,#cac4ff 243px,#ffbdfe 286px,#ff93ce 334px,#ff669f 406px,#ff2d6d 522px,#ff105e 563px,#ff025c 570px,#ff0047 787px)"></i>
<i style="background:linear-gradient(90deg,#00e8ff 0px,#00d6ff 117px,#0cf 148px,#16ccff 150px,#32cbff 156px,#5acaff 171px,#94c6ff 204px,#f8bdff 279px,#ffb9fb 288px,#ff8fcc 337px,#ff629d 411px,#ff256a 531px,#ff0d60 561px,#ff005e 567px,#ff0048 787px)"></i>
<i style="background:linear-gradient(90deg,#00e7ff 0px,#00d5ff 116px,#00cbff 147px,#1bcaff 150px,#38caff 157px,#61c8ff 174px,#9fc4ff 211px,#ffb9fe 286px,#ff8ece 335px,#ff629f 408px,#ff266c 526px,#ff0d62 556px,#ff0060 563px,#ff0049 787px)"></i>
<i style="background:linear-gradient(90deg,#00e6ff 0px,#00d4ff 114px,#00c9ff 147px,#11c9ff 148px,#28c8ff 152px,#4ac7ff 163px,#7cc5ff 188px,#c9beff 242px,#ffb6fd 287px,#ff8ccd 336px,#ff5f9e 410px,#ff216c 529px,#ff0b64 553px,#ff0062 558px,#ff004b 787px)"></i>
<i style="background:linear-gradient(90deg,#00e6ff 0px,#00d3ff 113px,#00c7ff 146px,#16c7ff 148px,#32c7ff 154px,#59c5ff 169px,#93c1ff 202px,#f5b7ff 277px,#ffb3fc 288px,#ff89cc 338px,#ff5c9d 413px,#ff1d6c 531px,#ff0965 550px,#ff0064 554px,#ff004c 785px,#ff004c 787px)"></i>
<i style="background:linear-gradient(90deg,#00e5ff 0px,#00d2ff 112px,#00c6ff 145px,#1bc6ff 148px,#37c5ff 155px,#63c3ff 173px,#a0beff 211px,#ffb3fe 286px,#ff89cf 335px,#ff5d9f 409px,#ff1d6e 526px,#ff0a67 545px,#f06 549px,#ff004e 774px,#ff004d 787px)"></i>
<i style="background:linear-gradient(90deg,#00e4ff 0px,#00d1ff 110px,#00c4ff 145px,#11c4ff 146px,#28c4ff 150px,#4cc2ff 162px,#80bfff 189px,#cfb8ff 246px,#ffb0fd 287px,#ff86ce 337px,#ff599e 412px,#ff1d70 522px,#ff0969 541px,#ff0068 545px,#ff004f 765px,#ff004e 787px)"></i>
<i style="background:linear-gradient(90deg,#00e3ff 0px,#00d0ff 109px,#00c3ff 144px,#0ec3ff 145px,#22c2ff 148px,#44c1ff 158px,#73bfff 181px,#bbb8ff 230px,#ffaefd 287px,#ff84ce 337px,#ff589f 412px,#ff1d72 518px,#ff0a6b 536px,#ff006a 540px,#ff0051 755px,#ff004f 787px)"></i>
<i style="background:linear-gradient(90deg,#00e2ff 0px,#00cfff 108px,#00c1ff 143px,#1bc1ff 146px,#37c0ff 153px,#62beff 171px,#9fb9ff 209px,#ffacff 286px,#ff83cf 336px,#ff56a0 411px,#ff1d74 514px,#ff096d 532px,#ff006c 536px,#ff0053 746px,#ff0050 787px)"></i>
<i style="background:linear-gradient(90deg,#00e1ff 0px,#00ceff 107px,#00c0ff 142px,#03c0ff 143px,#11bfff 144px,#28bfff 148px,#4cbeff 160px,#7fbaff 187px,#ceb2ff 245px,#ffa8fd 288px,#ff7fcd 339px,#ff529e 416px,#ff1c76 509px,#ff086f 528px,#ff006f 530px,#f05 734px,#ff0051 787px)"></i>
<i style="background:linear-gradient(90deg,#00e1ff 0px,#00cdff 105px,#00beff 142px,#0ebeff 143px,#26bdff 147px,#48bcff 158px,#79b9ff 183px,#c3b1ff 236px,#ffa6fd 288px,#ff7dcc 340px,#ff509d 416px,#ff1b77 506px,#ff0972 523px,#ff0070 527px,#ff0057 728px,#ff0052 787px)"></i>
<i style="background:linear-gradient(90deg,#00e0ff 0px,#0cf 104px,#00bdff 141px,#1bbcff 144px,#37bbff 151px,#61b9ff 169px,#9db4ff 207px,#ffa6ff 286px,#ff7cce 338px,#ff4f9f 415px,#ff1c7a 501px,#ff0873 519px,#ff0073 521px,#ff0059 716px,#ff0053 787px)"></i>
<i style="background:linear-gradient(90deg,#00dfff 0px,#00cbff 103px,#0bf 140px,#05bbff 141px,#12bbff 142px,#2bbaff 147px,#50b9ff 160px,#84b5ff 189px,#d7abff 252px,#ffa2fd 288px,#ff79cd 340px,#ff4b9e 417px,#ff1b7b 498px,#ff0775 515px,#ff0075 518px,#ff005a 710px,#ff0054 787px)"></i>
<i style="background:linear-gradient(90deg,#00deff 0px,#00caff 102px,#00baff 140px,#0fb9ff 141px,#26b9ff 145px,#4ab7ff 157px,#7db4ff 184px,#caabff 241px,#ffa0fd 288px,#ff77cd 340px,#ff499e 417px,#ff1b7d 494px,#ff0878 509px,#f07 511px,#ff005c 698px,#f05 787px)"></i>
<i style="background:linear-gradient(90deg,#0df 0px,#00c9ff 101px,#00b8ff 139px,#14b8ff 141px,#30b7ff 147px,#56b5ff 162px,#8eb0ff 195px,#eaa4ff 268px,#ff9dfc 289px,#ff74cc 342px,#ff469d 420px,#ff197f 491px,#ff077a 505px,#ff0079 508px,#ff005e 692px,#ff0056 787px)"></i>
<i style="background:linear-gradient(90deg,#0df 0px,#00c8ff 100px,#00b7ff 138px,#06b6ff 139px,#19b6ff 141px,#35b5ff 148px,#5fb3ff 166px,#9badff 204px,#ff9dff 287px,#ff74cf 339px,#ff46a0 416px,#ff1a81 486px,#ff097c 500px,#ff007b 502px,#ff0060 681px,#ff0056 787px)"></i>
<i style="background:linear-gradient(90deg,#00dcff 0px,#00c7ff 99px,#00b5ff 138px,#0fb5ff 139px,#26b4ff 143px,#4ab3ff 155px,#7cafff 182px,#c8a5ff 239px,#ff99fc 289px,#ff71cd 342px,#ff419d 421px,#ff1882 484px,#ff087e 496px,#ff007d 498px,#ff0062 674px,#ff0057 787px)"></i>
<i style="background:linear-gradient(90deg,#00dbff 0px,#00c6ff 98px,#00b4ff 137px,#15b3ff 139px,#30b2ff 145px,#58b0ff 161px,#91abff 196px,#f09cff 274px,#ff97fd 289px,#ff6ecc 343px,#ff3e9d 423px,#ff1884 480px,#ff0680 492px,#ff007f 494px,#ff0064 666px,#ff0058 787px)"></i>
<i style="background:linear-gradient(90deg,#00daff 0px,#00c4ff 97px,#00b2ff 136px,#19b2ff 139px,#35b1ff 146px,#5faeff 164px,#9ba8ff 203px,#ff97ff 287px,#ff6ecf 340px,#ff3fa0 418px,#ff1786 476px,#ff0882 487px,#ff0081 489px,#f06 657px,#ff0059 787px)"></i>
<i style="background:linear-gradient(90deg,#00d9ff 0px,#00c3ff 96px,#00b1ff 136px,#10b0ff 137px,#26b0ff 141px,#49aeff 153px,#7baaff 180px,#c7a0ff 238px,#ff93fd 289px,#ff6acd 343px,#ff3a9e 423px,#ff1688 473px,#ff0684 483px,#ff0083 485px,#ff0067 650px,#ff005a 787px)"></i>
<i style="background:linear-gradient(90deg,#00d8ff 0px,#00c2ff 95px,#00afff 135px,#15afff 137px,#30aeff 143px,#57acff 159px,#90a6ff 194px,#ee96ff 272px,#ff91fd 289px,#ff68cd 343px,#ff379e 423px,#ff158a 469px,#ff0586 479px,#ff0086 481px,#ff0069 643px,#ff005b 787px)"></i>
<i style="background:linear-gradient(90deg,#00d7ff 0px,#00c1ff 94px,#00aeff 134px,#19adff 137px,#35acff 144px,#5eaaff 162px,#9aa3ff 201px,#ff90ff 287px,#ff66ce 343px,#ff359f 423px,#ff148c 466px,#ff0789 474px,#f08 477px,#ff006b 636px,#ff005c 787px)"></i>
<i style="background:linear-gradient(90deg,#00d7ff 0px,#00c0ff 93px,#00acff 134px,#10acff 135px,#26abff 139px,#49aaff 151px,#7aa5ff 178px,#c59aff 236px,#ff8dfd 289px,#ff64cd 344px,#ff319e 425px,#ff128d 463px,#ff058b 470px,#ff008a 472px,#ff006d 627px,#ff005c 787px)"></i>
<i style="background:linear-gradient(90deg,#00d6ff 0px,#00bfff 92px,#00abff 133px,#15aaff 135px,#2fa9ff 141px,#56a7ff 157px,#8ea1ff 192px,#ec90ff 270px,#ff8afc 290px,#ff61cd 345px,#ff2d9d 427px,#ff108f 460px,#ff008c 468px,#ff006f 620px,#ff005d 787px)"></i>
<i style="background:linear-gradient(90deg,#00d5ff 0px,#00beff 92px,#0af 132px,#19a9ff 135px,#35a8ff 142px,#5da5ff 160px,#989eff 199px,#fe8aff 287px,#ff5ecc 346px,#ff299d 429px,#ff0e91 457px,#ff008e 463px,#ff0071 611px,#ff005e 787px)"></i>
<i style="background:linear-gradient(90deg,#00d4ff 0px,#00bdff 91px,#00a8ff 132px,#10a7ff 133px,#26a7ff 137px,#48a5ff 149px,#7aa0ff 177px,#c695ff 236px,#ff85fd 290px,#ff5ccd 346px,#ff269d 429px,#ff0e93 453px,#ff0090 459px,#ff0073 604px,#ff005f 787px)"></i>
<i style="background:linear-gradient(90deg,#00d3ff 0px,#00bcff 90px,#00a6ff 131px,#0da6ff 132px,#24a5ff 136px,#47a4ff 148px,#789fff 175px,#c194ff 232px,#ff83fd 290px,#ff5acd 346px,#ff239e 429px,#ff0d95 449px,#ff0093 453px,#ff0075 594px,#ff0060 787px)"></i>
<i style="background:linear-gradient(90deg,#00d2ff 0px,#0bf 89px,#00a5ff 130px,#19a4ff 133px,#37a3ff 141px,#62a0ff 161px,#9f98ff 203px,#ff82fe 289px,#ff59ce 345px,#ff209f 428px,#ff0a97 446px,#ff0095 450px,#f07 589px,#ff0060 787px)"></i>
<i style="background:linear-gradient(90deg,#00d1ff 0px,#00baff 88px,#00a4ff 129px,#03a3ff 130px,#11a3ff 131px,#29a2ff 136px,#4ea0ff 150px,#829aff 181px,#d48cff 248px,#ff7ffd 290px,#ff55cd 347px,#ff1d9f 427px,#ff0999 442px,#ff0098 444px,#ff0079 579px,#ff0061 787px)"></i>
<i style="background:linear-gradient(90deg,#00d1ff 0px,#00b9ff 87px,#00a2ff 129px,#0ea2ff 130px,#24a1ff 134px,#479fff 146px,#779aff 173px,#c18eff 231px,#ff7dfd 290px,#ff53cd 347px,#ff1da2 423px,#ff0a9b 437px,#ff009a 440px,#ff007b 572px,#ff0062 787px)"></i>
<i style="background:linear-gradient(90deg,#00d0ff 0px,#00b8ff 87px,#00a1ff 128px,#1aa0ff 131px,#379fff 139px,#619bff 159px,#9f93ff 202px,#ff7bfe 289px,#ff52ce 346px,#ff1ca4 419px,#ff099d 433px,#ff009d 435px,#ff007e 564px,#ff0063 787px)"></i>
<i style="background:linear-gradient(90deg,#00cfff 0px,#00b7ff 86px,#00a0ff 127px,#059fff 128px,#119fff 129px,#299eff 134px,#4e9bff 148px,#8196ff 179px,#d286ff 246px,#ff78fd 290px,#ff4fce 347px,#ff1ca6 416px,#ff08a0 429px,#ff009f 431px,#ff0080 557px,#ff0064 778px,#ff0063 787px)"></i>
<i style="background:linear-gradient(90deg,#00ceff 0px,#00b6ff 85px,#009eff 127px,#0e9dff 128px,#249dff 132px,#469bff 144px,#7795ff 172px,#c188ff 231px,#ff75fd 291px,#ff4bcd 349px,#ff1ba8 413px,#ff09a2 424px,#ff00a1 426px,#ff0082 549px,#f06 763px,#ff0064 787px)"></i>
<i style="background:linear-gradient(90deg,#00cdff 0px,#00b5ff 84px,#009cff 126px,#1a9cff 129px,#379aff 137px,#6197ff 157px,#9d8eff 200px,#ff75ff 289px,#ff4bcf 346px,#ff1aaa 409px,#ff08a5 420px,#ff00a4 422px,#ff0084 543px,#ff0068 753px,#ff0065 787px)"></i>
<i style="background:linear-gradient(90deg,#0cf 0px,#00b3ff 84px,#009bff 125px,#189aff 128px,#39f 135px,#5a96ff 153px,#948eff 192px,#f775ff 281px,#ff70fc 292px,#ff45cc 351px,#ff19ac 406px,#ff06a7 416px,#ff00a6 417px,#ff0086 535px,#ff006a 738px,#ff0065 787px)"></i>
<i style="background:linear-gradient(90deg,#00cbff 0px,#00b2ff 83px,#09f 125px,#0f99ff 126px,#2498ff 130px,#4696ff 142px,#7791ff 170px,#c083ff 229px,#ff6efd 291px,#ff43cd 350px,#ff19af 402px,#ff08aa 412px,#ff00a9 414px,#f08 529px,#ff006c 728px,#f06 787px)"></i>
<i style="background:linear-gradient(90deg,#00caff 0px,#00b2ff 82px,#0098ff 124px,#1497ff 126px,#2e96ff 132px,#5393ff 148px,#898cff 183px,#e178ff 260px,#ff6cfd 291px,#ff40cd 350px,#ff18b1 398px,#ff07ac 408px,#ff00ab 409px,#ff008b 521px,#ff006e 713px,#ff0067 787px)"></i>
<i style="background:linear-gradient(90deg,#00c9ff 0px,#00b0ff 82px,#0097ff 123px,#1896ff 126px,#3594ff 134px,#5f91ff 154px,#9b87ff 197px,#ff6bff 289px,#ff3fcf 348px,#ff18b3 394px,#ff08af 403px,#ff00ae 405px,#ff008d 514px,#ff0070 701px,#ff0068 787px)"></i>
<i style="background:linear-gradient(90deg,#00c9ff 0px,#00afff 81px,#0095ff 123px,#0f95ff 124px,#2494ff 128px,#4592ff 140px,#768cff 168px,#be7dff 227px,#ff67fd 291px,#ff3bce 350px,#ff16b5 391px,#ff07b1 399px,#ff00b1 400px,#ff0090 506px,#ff0072 689px,#ff0068 787px)"></i>
<i style="background:linear-gradient(90deg,#00c8ff 0px,#00aeff 80px,#0094ff 122px,#1493ff 124px,#2d92ff 130px,#538fff 146px,#8987ff 182px,#e171ff 260px,#ff64fc 292px,#ff36cd 352px,#ff14b7 388px,#ff05b3 395px,#ff00b3 397px,#ff0092 501px,#ff0074 681px,#ff0069 787px)"></i>
<i style="background:linear-gradient(90deg,#00c7ff 0px,#00adff 79px,#0093ff 121px,#1892ff 124px,#3590ff 132px,#5e8cff 152px,#9a82ff 195px,#ff63ff 290px,#ff36cf 349px,#ff15ba 383px,#ff07b6 390px,#ff00b6 391px,#ff0094 492px,#ff0076 665px,#ff006a 787px)"></i>
<i style="background:linear-gradient(90deg,#00c6ff 0px,#00acff 79px,#0091ff 121px,#0f90ff 122px,#288fff 127px,#4b8dff 141px,#7f86ff 173px,#ce73ff 241px,#ff5ffd 292px,#ff2fcc 353px,#ff11bc 381px,#ff05b9 386px,#ff00b8 387px,#ff0097 486px,#ff0078 655px,#ff006a 787px)"></i>
<i style="background:linear-gradient(90deg,#00c5ff 0px,#00abff 78px,#008fff 120px,#148fff 122px,#2d8eff 128px,#548aff 145px,#8b82ff 182px,#e469ff 263px,#ff5cfd 292px,#ff2ccd 353px,#ff11be 377px,#f0b 383px,#f09 479px,#ff007b 643px,#ff006b 787px)"></i>
<i style="background:linear-gradient(90deg,#00c4ff 0px,#0af 77px,#008eff 119px,#188dff 122px,#358cff 130px,#5e87ff 150px,#997dff 193px,#ff5bff 290px,#ff2bcf 350px,#ff10c1 373px,#ff05be 377px,#ff00be 378px,#ff009c 472px,#ff007d 631px,#ff006b 787px)"></i>
<i style="background:linear-gradient(90deg,#00c3ff 0px,#00a9ff 77px,#028cff 119px,#108cff 120px,#288bff 125px,#4b88ff 139px,#7e81ff 171px,#cc6dff 239px,#ff57fd 292px,#ff24cd 353px,#ff0dc3 370px,#ff00c1 374px,#ff009e 466px,#ff007f 622px,#ff006c 787px)"></i>
<i style="background:linear-gradient(90deg,#00c2ff 0px,#00a8ff 76px,#008bff 118px,#0d8bff 119px,#238aff 123px,#4487ff 135px,#7381ff 163px,#ba71ff 222px,#ff54fd 292px,#ff20cd 353px,#ff09c5 367px,#ff00c4 369px,#ff00a1 458px,#ff0082 608px,#ff006d 787px)"></i>
<i style="background:linear-gradient(90deg,#00c1ff 0px,#00a7ff 75px,#008aff 117px,#1889ff 120px,#3587ff 128px,#5d83ff 148px,#9878ff 191px,#fa56ff 285px,#ff4ffa 295px,#ff1cce 352px,#ff08c8 363px,#ff00c6 365px,#ff00a4 452px,#ff0084 598px,#ff006d 787px)"></i>
<i style="background:linear-gradient(90deg,#00c0ff 0px,#00a5ff 75px,#0089ff 116px,#0488ff 117px,#1088ff 118px,#2887ff 123px,#4a84ff 137px,#7d7cff 169px,#ca68ff 237px,#ff4ffd 292px,#ff1bd1 348px,#ff0acb 358px,#ff00ca 360px,#ff00a6 445px,#ff0087 587px,#ff006e 787px)"></i>
<i style="background:linear-gradient(90deg,#00bfff 0px,#00a5ff 74px,#0087ff 116px,#0d86ff 117px,#2386ff 121px,#4383ff 133px,#727cff 161px,#ba6bff 221px,#ff4bfd 293px,#ff1bd4 344px,#ff08ce 354px,#f0c 356px,#ff00a9 439px,#ff0089 577px,#ff006f 787px)"></i>
<i style="background:linear-gradient(90deg,#00bfff 0px,#00a3ff 74px,#0086ff 115px,#1985ff 118px,#3483ff 126px,#5e7eff 147px,#9a72ff 192px,#f550ff 280px,#ff47fc 294px,#ff1bd7 340px,#ff0ad1 349px,#ff00d0 351px,#ff00ac 432px,#ff008b 566px,#ff006f 787px)"></i>
<i style="background:linear-gradient(90deg,#00beff 0px,#00a2ff 73px,#0085ff 114px,#0584ff 115px,#1783ff 117px,#3381ff 125px,#5c7dff 145px,#9671ff 188px,#f14fff 276px,#ff44fc 294px,#ff1ada 336px,#ff08d4 345px,#ff00d3 347px,#ff00af 426px,#ff008e 557px,#ff0071 779px,#ff0070 787px)"></i>
<i style="background:linear-gradient(90deg,#00bdff 0px,#00a1ff 72px,#0082ff 114px,#0e82ff 115px,#2381ff 119px,#457eff 132px,#7677ff 162px,#be63ff 225px,#ff43fe 292px,#ff1add 332px,#ff06d7 341px,#ff00d6 342px,#ff00b2 418px,#ff0091 544px,#ff0073 756px,#ff0070 787px)"></i>
<i style="background:linear-gradient(90deg,#00bcff 0px,#00a0ff 72px,#0081ff 113px,#1980ff 116px,#347eff 124px,#5e79ff 145px,#996dff 190px,#ef4bff 274px,#ff3dfc 294px,#ff18df 329px,#ff09db 336px,#ff00d9 338px,#ff00b4 414px,#ff0093 536px,#ff0075 743px,#ff0071 787px)"></i>
<i style="background:linear-gradient(90deg,#0bf 0px,#009fff 71px,#0080ff 112px,#177fff 115px,#337dff 123px,#5b78ff 143px,#966cff 187px,#eb4aff 270px,#ff3afc 294px,#ff15e2 326px,#ff07de 332px,#f0d 333px,#ff00b8 406px,#ff0097 523px,#ff0078 720px,#ff0072 787px)"></i>
<i style="background:linear-gradient(90deg,#00baff 0px,#009eff 71px,#007eff 112px,#0e7eff 113px,#237dff 117px,#457aff 130px,#7572ff 160px,#bd5dff 223px,#fb3cff 287px,#ff31f8 299px,#ff13e4 323px,#ff04e1 328px,#ff00df 330px,#ff00ba 402px,#ff0098 517px,#ff007a 710px,#ff0072 787px)"></i>
<i style="background:linear-gradient(90deg,#00b9ff 0px,#009dff 70px,#007dff 111px,#137cff 113px,#2c7bff 119px,#5177ff 136px,#876cff 174px,#de4cff 256px,#ff32fc 294px,#ff14e8 318px,#ff07e4 323px,#ff00e4 324px,#ff00be 393px,#ff009c 502px,#ff007d 687px,#ff0073 787px)"></i>
<i style="background:linear-gradient(90deg,#00b8ff 0px,#009cff 69px,#007cff 110px,#177aff 113px,#3379ff 121px,#5c73ff 142px,#9766ff 187px,#e644ff 265px,#ff2efd 294px,#ff11eb 315px,#ff00e7 320px,#ff00c1 388px,#ff009f 494px,#ff0080 673px,#ff0073 787px)"></i>
<i style="background:linear-gradient(90deg,#00b7ff 0px,#009aff 69px,#007bff 109px,#007aff 110px,#0f79ff 111px,#2678ff 116px,#4875ff 130px,#796cff 162px,#c553ff 230px,#f932ff 285px,#ff27fb 296px,#ff0eed 312px,#ff07ec 314px,#ff00eb 315px,#ff00c5 381px,#ff00a2 484px,#ff0082 657px,#ff0074 787px)"></i>
<i style="background:linear-gradient(90deg,#00b6ff 0px,#009aff 68px,#007aff 108px,#0079ff 109px,#1378ff 111px,#2b76ff 117px,#5172ff 134px,#8767ff 172px,#db45ff 253px,#ff27ff 292px,#ff10f2 307px,#f0e 311px,#ff00c8 375px,#ff00a5 475px,#ff0085 642px,#ff0074 787px)"></i>
<i style="background:linear-gradient(90deg,#00b5ff 0px,#0098ff 68px,#0079ff 107px,#07f 108px,#1776ff 111px,#3374ff 119px,#5c6fff 140px,#9661ff 185px,#e03fff 258px,#f2f 292px,#ff0cf4 304px,#ff00f3 306px,#f0c 368px,#ff00a8 464px,#f08 624px,#ff0075 787px)"></i>
<i style="background:linear-gradient(90deg,#00b4ff 0px,#0097ff 67px,#07f 106px,#0075ff 108px,#0f75ff 109px,#2674ff 114px,#4a70ff 129px,#7c66ff 163px,#ca49ff 235px,#f42aff 280px,#ff16fc 295px,#ff05f7 301px,#ff00f6 302px,#ff00cf 362px,#ff00ab 455px,#ff008b 609px,#ff0075 787px)"></i>
<i style="background:linear-gradient(90deg,#00b3ff 0px,#0096ff 66px,#0076ff 105px,#0074ff 107px,#1473ff 109px,#2e72ff 116px,#556cff 135px,#8d60ff 176px,#d73eff 249px,#f721ff 283px,#ff0cfc 295px,#ff00fa 297px,#ff00d3 355px,#ff00af 444px,#ff008f 591px,#ff0076 787px)"></i>
<i style="background:linear-gradient(90deg,#00b2ff 0px,#0095ff 66px,#0074ff 105px,#0073ff 106px,#1772ff 109px,#3370ff 117px,#5b6aff 138px,#955bff 183px,#d939ff 251px,#f51eff 281px,#fe0aff 291px,#ff00fe 293px,#ff00d6 350px,#ff00b2 437px,#ff0091 580px,#f07 787px)"></i>
<i style="background:linear-gradient(90deg,#00b1ff 0px,#0094ff 65px,#0073ff 104px,#0371ff 106px,#0f71ff 107px,#266fff 112px,#496bff 127px,#7c61ff 161px,#c842ff 233px,#ed23ff 272px,#f90fff 285px,#fa08ff 287px,#fb00ff 288px,#ff00f7 301px,#ff00d0 363px,#ff00ac 458px,#ff008c 615px,#f07 787px)"></i>
<i style="background:linear-gradient(90deg,#00b0ff 0px,#0093ff 65px,#0072ff 103px,#0070ff 105px,#0d6fff 106px,#216eff 110px,#436bff 123px,#7261ff 153px,#b948ff 217px,#e429ff 262px,#f312ff 279px,#f706ff 283px,#f800ff 284px,#ff00fc 296px,#ff00d4 356px,#ff00b0 447px,#ff008f 597px,#ff0078 787px)"></i>
<i style="background:linear-gradient(90deg,#00afff 0px,#0092ff 64px,#0071ff 102px,#006fff 104px,#176dff 107px,#326bff 115px,#5b65ff 136px,#9555ff 182px,#d334ff 244px,#eb1aff 270px,#f208ff 278px,#f300ff 279px,#ff00fc 296px,#ff00d4 356px,#ff00b0 448px,#ff008f 600px,#ff0078 787px)"></i>
<i style="background:linear-gradient(90deg,#00aeff 0px,#0090ff 64px,#0070ff 101px,#006dff 103px,#046cff 104px,#166cff 106px,#316aff 114px,#5a63ff 135px,#9353ff 180px,#d033ff 241px,#e818ff 267px,#ee06ff 274px,#ef00ff 275px,#ff00fd 295px,#ff00d5 355px,#ff00b1 447px,#ff0090 598px,#ff0079 787px)"></i>
<i style="background:linear-gradient(90deg,#00adff 0px,#008fff 63px,#006fff 100px,#006bff 103px,#0d6bff 104px,#216aff 108px,#4366ff 121px,#715cff 151px,#b840ff 215px,#dc23ff 254px,#e80fff 267px,#ec00ff 271px,#ff00fd 295px,#ff00d5 356px,#ff00b1 449px,#ff0090 602px,#ff0079 787px)"></i>
<i style="background:linear-gradient(90deg,#00acff 0px,#008eff 62px,#006eff 99px,#006aff 102px,#1869ff 105px,#3566ff 114px,#5f5fff 137px,#9a4cff 186px,#cf2dff 239px,#e214ff 260px,#e606ff 265px,#e700ff 266px,#ff00fd 295px,#ff00d6 356px,#ff00b1 450px,#ff0090 604px,#ff007a 787px)"></i>
<i style="background:linear-gradient(90deg,#00abff 0px,#008dff 62px,#006dff 98px,#0069ff 101px,#1b67ff 105px,#3864ff 115px,#645cff 140px,#a247ff 193px,#d028ff 240px,#df11ff 257px,#e209ff 260px,#e400ff 262px,#ff00fc 296px,#ff00d5 358px,#ff00b1 453px,#ff0090 610px,#ff007a 787px)"></i>
<i style="background:linear-gradient(90deg,#0af 0px,#008cff 61px,#006cff 97px,#0067ff 101px,#0d66ff 102px,#2165ff 106px,#4261ff 119px,#7257ff 150px,#b837ff 215px,#d51cff 246px,#dd0aff 255px,#df00ff 257px,#ff00fd 296px,#ff00d5 359px,#ff00b1 455px,#ff0090 613px,#ff007b 787px)"></i>
<i style="background:linear-gradient(90deg,#00a9ff 0px,#008bff 61px,#0069ff 97px,#0065ff 100px,#1264ff 102px,#2a63ff 108px,#4e5dff 125px,#824fff 163px,#be30ff 221px,#d416ff 245px,#da09ff 251px,#dc00ff 253px,#ff00fd 296px,#ff00d5 359px,#ff00b1 456px,#ff0090 615px,#ff007b 787px)"></i>
<i style="background:linear-gradient(90deg,#00a8ff 0px,#008aff 60px,#0068ff 96px,#0064ff 99px,#1663ff 102px,#3160ff 110px,#5959ff 131px,#9247ff 177px,#c228ff 225px,#d312ff 243px,#d606ff 247px,#d700ff 248px,#ff00fd 296px,#ff00d5 360px,#ff00b1 458px,#ff0090 619px,#ff007c 787px)"></i>
<i style="background:linear-gradient(90deg,#00a7ff 0px,#08f 60px,#0067ff 95px,#0062ff 99px,#0e61ff 100px,#2560ff 105px,#485bff 120px,#794fff 154px,#b72eff 213px,#cd15ff 237px,#d209ff 242px,#d400ff 244px,#ff00fd 296px,#ff00d5 361px,#ff00b1 460px,#ff0090 623px,#ff007c 787px)"></i>
<i style="background:linear-gradient(90deg,#00a6ff 0px,#0087ff 59px,#06f 94px,#0061ff 98px,#1260ff 100px,#2d5eff 107px,#5357ff 126px,#8946ff 168px,#bb27ff 217px,#cc10ff 235px,#ce07ff 238px,#cf00ff 239px,#ff00fd 296px,#ff00d5 361px,#ff00b1 461px,#ff0090 625px,#ff007d 787px)"></i>
<i style="background:linear-gradient(90deg,#00a5ff 0px,#0086ff 59px,#0065ff 93px,#0060ff 97px,#165eff 100px,#315bff 108px,#5854ff 129px,#9140ff 175px,#bb23ff 217px,#c80fff 231px,#c0f 235px,#ff00fe 295px,#ff00d6 360px,#ff00b2 460px,#ff0091 624px,#ff007d 787px)"></i>
<i style="background:linear-gradient(90deg,#00a4ff 0px,#0085ff 58px,#0064ff 92px,#005dff 97px,#0e5dff 98px,#255bff 103px,#4756ff 118px,#7849ff 152px,#b029ff 205px,#c312ff 225px,#c607ff 229px,#c700ff 230px,#ff00fe 295px,#ff00d6 361px,#ff00b2 462px,#ff0091 628px,#ff007e 787px)"></i>
<i style="background:linear-gradient(90deg,#00a3ff 0px,#0083ff 58px,#0062ff 92px,#005cff 96px,#135bff 98px,#2c59ff 105px,#5252ff 124px,#8840ff 166px,#b322ff 208px,#c00fff 222px,#c400ff 226px,#ff00fe 295px,#ff00d7 361px,#ff00b2 462px,#ff0091 628px,#ff007e 787px)"></i>
<i style="background:linear-gradient(90deg,#00a2ff 0px,#0083ff 57px,#0061ff 91px,#005bff 95px,#1659ff 98px,#3156ff 106px,#584fff 127px,#9039ff 173px,#b31dff 208px,#bd0bff 219px,#bf00ff 221px,#f0f 294px,#ff00d7 360px,#ff00b3 461px,#ff0092 627px,#ff007e 787px)"></i>
<i style="background:linear-gradient(90deg,#00a1ff 0px,#0082ff 56px,#0061ff 89px,#0158ff 95px,#0e58ff 96px,#2556ff 101px,#4751ff 116px,#7842ff 151px,#a924ff 197px,#b80eff 213px,#bc00ff 217px,#f0f 294px,#ff00d7 361px,#ff00b3 463px,#ff0092 631px,#ff007f 787px)"></i>
<i style="background:linear-gradient(90deg,#00a0ff 0px,#0080ff 56px,#005eff 89px,#0057ff 94px,#1356ff 96px,#2c54ff 103px,#524cff 122px,#8838ff 164px,#ab1dff 199px,#b60bff 210px,#b700ff 212px,#fc00ff 290px,#ff00f2 313px,#ff00cb 390px,#ff00a8 510px,#f08 709px,#ff007f 787px)"></i>
<i style="background:linear-gradient(90deg,#009fff 0px,#007fff 55px,#005dff 88px,#0056ff 93px,#1654ff 96px,#3351ff 105px,#5c48ff 128px,#972cff 178px,#ad14ff 201px,#b304ff 207px,#b500ff 209px,#f900ff 286px,#ff00fb 300px,#ff00d3 371px,#ff00af 480px,#ff008f 660px,#ff0080 787px)"></i>
<i style="background:linear-gradient(90deg,#009dff 0px,#007eff 55px,#005cff 87px,#05f 92px,#0353ff 93px,#0f53ff 94px,#2551ff 99px,#464bff 114px,#783bff 149px,#a11fff 188px,#ae0bff 201px,#af00ff 203px,#f300ff 278px,#ff00fc 298px,#ff00d5 369px,#ff00b0 478px,#ff008f 657px,#ff0080 787px)"></i>
<i style="background:linear-gradient(90deg,#009cff 0px,#007dff 54px,#005bff 86px,#0052ff 92px,#0c51ff 93px,#2050ff 97px,#404bff 110px,#6f3dff 141px,#9b20ff 182px,#a90cff 196px,#ac00ff 199px,#e0f 272px,#ff00fc 298px,#ff00d5 369px,#ff00b1 478px,#ff0090 657px,#ff0081 787px)"></i>
<i style="background:linear-gradient(90deg,#009bff 0px,#007bff 54px,#005aff 85px,#0051ff 91px,#174fff 94px,#334cff 103px,#5b42ff 126px,#9424ff 174px,#a50dff 191px,#a607ff 193px,#a700ff 194px,#e800ff 265px,#ff00fd 298px,#ff00d5 370px,#ff00b1 480px,#ff0090 661px,#ff0081 787px)"></i>
<i style="background:linear-gradient(90deg,#009aff 0px,#007aff 53px,#0059ff 84px,#0050ff 90px,#054eff 91px,#154dff 93px,#304aff 101px,#5641ff 122px,#8e25ff 168px,#a00eff 186px,#a400ff 190px,#e500ff 260px,#ff00fd 298px,#ff00d5 370px,#ff00b1 481px,#ff0090 663px,#ff0082 787px)"></i>
<i style="background:linear-gradient(90deg,#09f 0px,#0079ff 53px,#0057ff 84px,#004dff 90px,#0d4cff 91px,#234aff 96px,#4544ff 111px,#7632ff 146px,#9717ff 176px,#9e07ff 184px,#9f00ff 185px,#df00ff 253px,#ff00fd 298px,#ff00d5 371px,#ff00b1 483px,#ff0090 667px,#ff0082 787px)"></i>
<i style="background:linear-gradient(90deg,#0098ff 0px,#0078ff 52px,#0057ff 82px,#004cff 89px,#174aff 92px,#3346ff 101px,#5b3bff 124px,#8c1fff 165px,#990cff 178px,#9c00ff 181px,#db00ff 248px,#ff00fd 298px,#ff00d5 372px,#ff00b1 485px,#ff0090 670px,#ff0083 787px)"></i>
<i style="background:linear-gradient(90deg,#0097ff 0px,#0076ff 52px,#0054ff 82px,#004aff 88px,#1a48ff 92px,#3643ff 102px,#6037ff 127px,#8b1bff 164px,#950bff 174px,#9700ff 176px,#d600ff 241px,#ff00fd 298px,#ff00d5 372px,#ff00b1 486px,#ff0090 673px,#ff0083 787px)"></i>
<i style="background:linear-gradient(90deg,#0096ff 0px,#0075ff 51px,#0053ff 81px,#0047ff 88px,#0d47ff 89px,#2345ff 94px,#453eff 109px,#7629ff 144px,#8e12ff 166px,#9305ff 171px,#9400ff 172px,#d100ff 235px,#ff00fd 298px,#ff00d5 373px,#ff00b1 488px,#ff0090 676px,#ff0083 787px)"></i>
<i style="background:linear-gradient(90deg,#0095ff 0px,#0074ff 51px,#0052ff 80px,#0046ff 87px,#1245ff 89px,#2b42ff 96px,#5038ff 115px,#811cff 154px,#8d0bff 165px,#8f01ff 167px,#cb00ff 228px,#ff00fd 298px,#ff00d6 373px,#ff00b1 488px,#ff0090 677px,#ff0084 787px)"></i>
<i style="background:linear-gradient(90deg,#0093ff 0px,#0073ff 50px,#0051ff 79px,#0045ff 86px,#1542ff 89px,#2f3fff 97px,#5733ff 119px,#8019ff 152px,#8909ff 161px,#8b00ff 163px,#c800ff 223px,#ff00fe 297px,#ff00d6 372px,#ff00b2 487px,#ff0091 676px,#ff0084 787px)"></i>
<i style="background:linear-gradient(90deg,#0092ff 0px,#0072ff 49px,#0050ff 78px,#0042ff 86px,#0d41ff 87px,#233fff 92px,#4537ff 107px,#751fff 142px,#840bff 156px,#80f 159px,#c300ff 217px,#ff00fe 297px,#ff00d6 373px,#ff00b2 489px,#ff0091 679px,#ff0085 787px)"></i>
<i style="background:linear-gradient(90deg,#0091ff 0px,#0070ff 49px,#004fff 77px,#0040ff 85px,#123fff 87px,#2b3cff 94px,#5031ff 113px,#7818ff 144px,#8109ff 152px,#8300ff 154px,#bd00ff 210px,#f0f 296px,#ff00d7 372px,#ff00b3 488px,#ff0091 678px,#ff0085 787px)"></i>
</div></div>
<svg width="1770" height="1162" viewBox="0 0 1770 1162">
<defs>
<linearGradient id="bar" x1="0" y1="0" x2="1" y2="0">
<stop offset="0" stop-color="#2a2ae8"/>
<stop offset=".2" stop-color="#5a5ade"/>
<stop offset=".38" stop-color="#9a9ace"/>
<stop offset=".5" stop-color="#b6b6bc"/>
<stop offset=".62" stop-color="#c0c0aa"/>
<stop offset=".8" stop-color="#c8c890"/>
<stop offset="1" stop-color="#cece7c"/>
</linearGradient>
<linearGradient id="bard" x1="0" y1="0" x2="1" y2="0">
<stop offset="0" stop-color="#7474e6"/>
<stop offset=".1" stop-color="#8a8ae4"/>
<stop offset=".2" stop-color="#9898e0"/>
<stop offset=".38" stop-color="#aeaed4"/>
<stop offset=".5" stop-color="#c0c0c0"/>
<stop offset=".6" stop-color="#cacaa4"/>
<stop offset=".75" stop-color="#e0e066"/>
<stop offset=".88" stop-color="#ecec3e"/>
<stop offset="1" stop-color="#f2f228"/>
</linearGradient>
<pattern id="dots" width="4.6" height="8" patternUnits="userSpaceOnUse" patternTransform="rotate(14)">
<circle cx="1.15" cy="2" r="1.95" fill="#fff"/><circle cx="3.45" cy="6" r="1.95" fill="#fff"/>
</pattern>
<mask id="dm" maskUnits="userSpaceOnUse" x="960" y="420" width="600" height="600"><rect x="960" y="420" width="600" height="600" fill="url(#dots)"/></mask>
<filter id="soft" color-interpolation-filters="sRGB" x="-5%" y="-5%" width="110%" height="110%"><feGaussianBlur stdDeviation=".8"/></filter>
<filter id="soft5" color-interpolation-filters="sRGB" x="-5%" y="-5%" width="110%" height="110%"><feGaussianBlur stdDeviation=".55"/></filter>
<filter id="glow" color-interpolation-filters="sRGB" x="-20%" y="-30%" width="140%" height="160%"><feGaussianBlur stdDeviation="1.6"/></filter>
<filter id="b4" color-interpolation-filters="sRGB" x="-50%" y="-50%" width="200%" height="200%"><feGaussianBlur stdDeviation="3.5"/></filter>
<radialGradient id="gps" cx="1375" cy="182" r="165" gradientUnits="userSpaceOnUse">
<stop offset="0" stop-color="#d3d41a"/>
<stop offset=".45" stop-color="#cfd012"/>
<stop offset=".8" stop-color="#cdd008"/>
<stop offset=".93" stop-color="#dbe008"/>
<stop offset="1" stop-color="#e6ee14"/>
</radialGradient>
<radialGradient id="yel" cx=".5" cy=".5" r=".5">
<stop offset="0" stop-color="#ffff0c"/>
<stop offset=".9" stop-color="#ffff0c"/>
<stop offset="1" stop-color="#ffff30"/>
</radialGradient>
<clipPath id="c3"><circle cx="1375.6" cy="176.6" r="172.6"/></clipPath>
</defs>
<defs><filter id="gb" color-interpolation-filters="sRGB" filterUnits="userSpaceOnUse" x="0" y="0" width="1770" height="1162"><feGaussianBlur stdDeviation="1"/></filter>
<g id="A">
<text transform="translate(150.84,55.4) scale(1,1.006)" font-size="49.24" font-weight="bold" fill="#000" stroke="#fff" stroke-width=".6">(a)</text>
<g>
<circle cx="378.6" cy="177.3" r="172.8" fill="#161616"/>
<path d="M539.4,177.3 L539.2,185.7 L538.4,194.1 L537.1,202.4 L535.6,210.7 L533.7,218.9 L531.1,226.8 L528.1,234.7 L525.1,242.5 L521.9,250.3 L518,257.8 L513.5,264.9 L508.6,271.7 L503.4,278.4 L497.7,284.5 L491.7,290.4 L485.6,296.2 L479.4,301.8 L472.8,307 L465.8,311.5 L458.6,315.8 L451.3,320 L443.8,323.8 L436.1,327.1 L428.2,330.1 L420.2,332.7 L412,334.6 L403.7,335.7 L395.3,336.4 L387,337 L378.6,337.4 L370.2,337.2 L361.9,336.5 L353.5,335.6 L345.2,334.3 L337.1,332.3 L329,330 L320.9,327.6 L312.9,324.8 L305.3,321.2 L298,316.9 L290.9,312.4 L284,307.5 L277.4,302.3 L271,296.8 L264.8,291.1 L258.6,285.3 L252.9,279.1 L247.6,272.5 L242.5,265.7 L237.4,258.8 L232.7,251.6 L228.7,244 L225.3,236.1 L222.4,228.1 L220.2,219.7 L218.7,211.3 L217.5,202.8 L216.3,194.4 L215.3,185.9 L215.1,177.3 L215.2,168.7 L215.4,160.1 L215.9,151.5 L217.1,143 L218.9,134.5 L221.1,126.1 L223.6,117.8 L226.7,109.7 L230.3,101.7 L234.1,93.9 L238.1,86.1 L242.8,78.6 L248.1,71.6 L253.6,64.7 L259.4,58.1 L265.8,52 L272.7,46.5 L279.7,41.1 L286.8,35.9 L294.3,31.2 L302.3,27.5 L310.7,24.8 L319.2,22.6 L327.8,20.8 L336.2,19.1 L344.6,17.3 L353.1,16.2 L361.6,16 L370.2,16.4 L378.6,16.8 L387,17.1 L395.4,17.9 L403.6,19.4 L411.7,21.4 L419.8,23.5 L427.7,26.1 L435.4,29.3 L442.9,32.8 L450.4,36.4 L457.8,40.2 L464.9,44.4 L471.7,49.2 L478.2,54.2 L484.6,59.6 L490.4,65.5 L495.9,71.7 L501.3,77.9 L506.8,84.2 L511.8,90.8 L516.2,97.8 L520.3,105.1 L524.1,112.5 L527.5,120.1 L530.3,128 L533.1,135.9 L535.7,143.9 L537.7,152.1 L538.7,160.5 L539.2,168.9Z" fill="url(#yel)"/>
<circle cx="876.7" cy="176.4" r="172" fill="#161616"/>
<path d="M1038.4,176.4 L1038,184.9 L1037.4,193.3 L1036.1,201.6 L1034,209.8 L1031.8,218 L1029.8,226.1 L1027.6,234.3 L1024.6,242.2 L1021,249.9 L1017,257.4 L1012.6,264.7 L1007.5,271.4 L1002.1,277.9 L996.7,284.5 L991.1,290.8 L984.7,296.4 L977.8,301.2 L970.8,305.9 L963.7,310.4 L956.4,314.5 L948.9,318.1 L941.3,321.6 L933.6,324.7 L925.6,327 L917.5,328.5 L909.3,329.9 L901.3,331.4 L893.1,332.3 L884.9,332.1 L876.7,331.5 L868.6,331 L860.5,330.2 L852.5,329 L844.5,327.7 L836.4,326.6 L828.4,325.1 L820.6,322.7 L813,319.5 L805.6,316 L798.3,312.2 L791.3,307.9 L784.6,303.2 L777.9,298.5 L771.3,293.4 L765.5,287.6 L760.1,281.4 L754.7,275.2 L749.2,269 L744.2,262.4 L739.8,255.5 L735.6,248.3 L731.9,240.9 L729.1,233.1 L726.9,225.1 L724.8,217.1 L722.6,209.2 L720.8,201.1 L719.9,192.9 L719.3,184.6 L718.9,176.4 L718.9,168.1 L719.6,159.9 L720.5,151.7 L721.5,143.4 L723.2,135.3 L725.9,127.4 L729.3,119.8 L732.7,112.3 L736.3,104.9 L740.3,97.7 L744.6,90.6 L749,83.6 L753.8,76.9 L759.3,70.7 L765.1,64.8 L771,59 L777,53.3 L783.5,48.1 L790.5,43.7 L797.8,39.7 L805.2,36.1 L812.9,33.2 L820.8,30.7 L828.5,28.1 L836.3,25.5 L844.2,23.4 L852.3,22.1 L860.4,21.2 L868.5,20.4 L876.7,20 L884.9,20.2 L893.1,20.6 L901.3,21 L909.5,22.2 L917.4,24.4 L925.2,27 L933,29.6 L940.8,32.4 L948.4,35.7 L955.8,39.3 L963.3,43.1 L970.4,47.4 L977.1,52.4 L983.4,57.9 L989.6,63.5 L995.7,69.2 L1001.2,75.6 L1006.1,82.4 L1010.7,89.4 L1015.2,96.4 L1019.3,103.7 L1023,111.3 L1026.7,118.8 L1030.2,126.5 L1032.9,134.5 L1034.7,142.8 L1036.1,151.1 L1037.5,159.5 L1038.3,167.9Z" fill="url(#yel)"/>
<circle cx="1375.6" cy="176.6" r="172.6" fill="#0c0c0c"/>
<path d="M1538.9,176.6 L1538.2,185.1 L1537.5,193.6 L1536.9,202.1 L1535.7,210.6 L1533.5,218.9 L1530.8,227 L1528.2,235.2 L1525.4,243.3 L1521.9,251.1 L1517.8,258.7 L1513.3,266 L1508.3,273 L1502.5,279.3 L1496.3,285.3 L1490.3,291.3 L1484.4,297.4 L1478,303.1 L1471.2,308.1 L1464.1,313 L1457,317.5 L1449.4,321.5 L1441.6,324.9 L1433.8,328.2 L1425.9,331.4 L1417.7,333.7 L1409.3,334.9 L1400.8,335.7 L1392.4,336.6 L1384,337.3 L1375.6,337.5 L1367.2,337.5 L1358.7,337.5 L1350.2,336.7 L1342,334.8 L1333.8,332.4 L1325.7,330.2 L1317.6,327.7 L1309.9,324.3 L1302.4,320.2 L1295.2,315.9 L1288.2,311.2 L1281.6,306 L1275.2,300.5 L1268.6,295.4 L1262,290.2 L1255.9,284.4 L1250.5,277.9 L1245.4,271.2 L1240.5,264.3 L1236.2,257.1 L1232.4,249.6 L1228.7,242 L1225.3,234.3 L1222.7,226.3 L1221.1,218 L1219.6,209.8 L1217.8,201.6 L1216.2,193.4 L1215.2,185 L1214.7,176.6 L1214.5,168.2 L1215.3,159.7 L1217.1,151.5 L1219.3,143.4 L1221.3,135.3 L1223.7,127.2 L1226.9,119.5 L1230.6,112.1 L1234.4,104.7 L1238.5,97.5 L1243.2,90.6 L1248.1,83.9 L1252.8,77.2 L1257.7,70.5 L1263.5,64.5 L1269.9,59.2 L1276.5,54.2 L1283.2,49.4 L1290.3,45.2 L1297.6,41.5 L1304.9,37.9 L1312.3,34.4 L1320,31.6 L1327.8,29.5 L1335.6,27.5 L1343.5,25.4 L1351.4,23.8 L1359.5,23.1 L1367.5,22.9 L1375.6,22.8 L1383.6,23.3 L1391.6,24.6 L1399.4,26.1 L1407.3,27.4 L1415.1,29 L1422.7,31.6 L1430.1,34.7 L1437.4,37.7 L1444.8,40.8 L1451.9,44.5 L1458.7,48.6 L1465.6,52.7 L1472.1,57.4 L1477.9,63 L1483.1,69.1 L1488.5,75 L1494.3,80.5 L1500.1,86.1 L1505.5,92.2 L1510.7,98.6 L1515.4,105.4 L1519,112.7 L1522.7,120.1 L1527.2,127.3 L1532,134.7 L1535.5,142.6 L1537,151 L1537.9,159.5 L1538.8,168Z" fill="url(#gps)"/>
<path clip-path="url(#c3)" d="M1530,258 L1515.6,263.3 L1507,265 L1497,271 L1478,282 L1455.2,297.3 L1451,303 L1447.4,305.1 L1432,309 L1416.5,314.4 L1398,323.5 L1377,334.5 L1374,338 L1372,360 L1570,360 L1570,250Z" fill="#0c0c0c"/>
</g>
<g filter="url(#b4)">
<circle cx="1298.5" cy="83.5" r="10.5" fill="#e2ea2c" stroke="#e6ee30" stroke-width="8" opacity=".85"/>
<circle cx="1298.5" cy="83.5" r="2.5" fill="#c4c810" opacity=".9"/>
<circle cx="1393.5" cy="264.5" r="11.5" fill="#e8f030" opacity=".9"/>
<circle cx="1360" cy="96" r="5" fill="#e0e830" opacity=".5"/>
</g>
<g>
<text transform="translate(302.71,204.1) scale(1,1.062)" font-size="75.21" font-weight="bold" fill="#000" stroke="#ffff0c" stroke-width=".8">HPF</text>
<text transform="translate(800.75,204.2) scale(1,1.068)" font-size="75.14" font-weight="bold" fill="#ff0000" stroke="#ffff0c" stroke-width=".8">SPS</text>
<text transform="translate(1304.79,204.79) scale(1,1.083)" font-size="75.14" font-weight="bold" fill="#0000ff" stroke="#d1d214" stroke-width=".8">GPS</text>
</g>
<g stroke="#050505" stroke-width="2.2" fill="none" stroke-linecap="butt">
<path d="M813.5,649.9 L806.2,642.4 L798.6,634.8 L790.9,627.2 L783,619.7 L774.8,612.2 L766.4,604.8 L757.8,597.6 L748.9,590.6 L739.9,583.9 L730.6,577.4 L721.1,571.3 L711.4,565.6 L701.4,560.4 L691.3,555.7 L680.9,551.5 L670.4,547.9 L659.7,544.9 L648.9,542.5 L637.9,540.9 L626.9,539.9 L615.7,539.6 L604.6,540 L593.4,541.2 L582.2,543 L571.1,545.4 L560,548.5 L549.1,552.1 L538.3,556.3 L527.6,561 L517.2,566.1 L507,571.6 L497,577.5 L487.3,583.7 L477.9,590.1 L468.7,596.7 L459.9,603.5 L451.4,610.3 L443.2,617.2 L435.3,624.2 L427.7,631.1 L420.5,638 L413.5,644.8 L406.9,651.5 L400.6,658.1 L394.6,664.6 L388.8,671 L383.4,677.1 L378.2,683.1 L373.3,689 L368.6,694.6 L364.2,700.1 L360,705.4 L356.1,710.5 L352.3,715.4 L348.7,720.2 L345.4,724.7 L342.2,729.1 L339.2,733.4 L336.3,737.4 L325.1,754.5 L314.7,770.6 L305.5,785.6 L297.3,799.4 L291.6,809.4 L287.7,816.2 L284.6,821.8 L284.3,822.4"/>
<path d="M271,811.9L297.6,834"/>
<path d="M290.4,632.5L371.4,820.4"/>
<path d="M336.9,705.2L351.9,747.7"/>
<path d="M348.5,688.4L362,733.1"/>
<path d="M365.3,669.4L374.3,719.7"/>
<path d="M381,520.6L396.4,780.1"/>
<path d="M421,603.3L416.5,670.4"/>
<path d="M441.1,601.1L437.1,639.1"/>
<path d="M494.1,461.3L441.4,706.3"/>
<path d="M502,559.7L491.4,595.5"/>
<path d="M576.9,453.5L503.1,643.6"/>
<path d="M627.4,463.6L553.8,610.7"/>
<path d="M676.2,502.8L629.7,580"/>
<path d="M737.8,560.5L717.6,586.7"/>
</g>
<g>
<polygon points="395.4,640.9 399.9,654 413.8,654.2 402.7,662.6 406.7,675.8 395.4,667.9 384.1,675.8 388.1,662.6 377,654.2 390.9,654" fill="#000" />
<polygon points="400.2,632.5 404.9,646 419.2,646.3 407.8,655 412,668.7 400.2,660.5 388.4,668.7 392.6,655 381.2,646.3 395.5,646" fill="#ff0000" />
<polygon points="381.8,657.7 386.3,670.8 400.2,671 389.1,679.4 393.1,692.6 381.8,684.7 370.5,692.6 374.5,679.4 363.4,671 377.3,670.8" fill="#0000ff" />
</g>
<g>
<text transform="translate(249.29,629.93) scale(1,0.961)" font-size="28.14" font-weight="normal" fill="#0a0a0a"  stroke="#0a0a0a" stroke-width="1.0" stroke-linejoin="round">10000</text>
<text transform="translate(344.27,516.13) scale(1,0.946)" font-size="28.57" font-weight="normal" fill="#0a0a0a"  stroke="#0a0a0a" stroke-width="1.0" stroke-linejoin="round">6000</text>
<text transform="translate(460.09,458.13) scale(1,0.956)" font-size="28.29" font-weight="normal" fill="#0a0a0a"  stroke="#0a0a0a" stroke-width="1.0" stroke-linejoin="round">4000</text>
<text transform="translate(542.41,450.13) scale(1,0.988)" font-size="27.37" font-weight="normal" fill="#0a0a0a"  stroke="#0a0a0a" stroke-width="1.0" stroke-linejoin="round">3000</text>
<text transform="translate(605.18,460.13) scale(1,0.954)" font-size="28.34" font-weight="normal" fill="#0a0a0a"  stroke="#0a0a0a" stroke-width="1.0" stroke-linejoin="round">2500</text>
<text transform="translate(598.51,604.73) scale(1,0.974)" font-size="27.78" font-weight="normal" fill="#0a0a0a"  stroke="#0a0a0a" stroke-width="1.0" stroke-linejoin="round">2000</text>
<text transform="translate(687.75,611.53) scale(1,0.987)" font-size="27.39" font-weight="normal" fill="#0a0a0a"  stroke="#0a0a0a" stroke-width="1.0" stroke-linejoin="round">1500</text>
<text transform="translate(427.89,748.3) scale(1,1.058)" font-size="30.68" font-weight="bold" fill="#0a0a0a" >T</text>
<text transform="translate(446.43,760.39) scale(1,0.957)" font-size="21.65" font-weight="bold" fill="#0a0a0a" >c</text>
<text transform="translate(457.85,748.82) scale(1,0.896)" font-size="34.96" font-weight="bold" fill="#0a0a0a" >(K)</text>
<text transform="translate(269.2,802.3) rotate(3) scale(1.13,.92)" font-size="27" font-weight="normal" text-anchor="middle" dominant-baseline="central" fill="#0c1830" stroke="#0c1830" stroke-width=".5">∞</text>
<text transform="translate(150.73,478.65) scale(1,0.98)" font-size="49.32" font-weight="bold" fill="#000" >(b)</text>
</g>
<g stroke="#101010" stroke-width="2.3" fill="none">
<rect x="104.8" y="408" width="768.8" height="623.1"/>
<path stroke="#0a060a" stroke-width="3.7" d="M103.8,1030.9H875.1"/>
<path stroke="#120c10" stroke-width="3.3" d="M873.9,407V1032.1"/>
<path stroke="#101414" stroke-width="2.9" d="M104.8,407V1032.1"/>
<path stroke-width="2.4" d="M104.8,408v12.3M104.8,1031.1v11.8M168.9,408v6.2M168.9,1031.1v6.2M232.9,408v12.3M232.9,1031.1v11.8M297,408v6.2M297,1031.1v6.2M361.1,408v12.3M361.1,1031.1v11.8M425.1,408v6.2M425.1,1031.1v6.2M489.2,408v12.3M489.2,1031.1v11.8M553.3,408v6.2M553.3,1031.1v6.2M617.3,408v12.3M617.3,1031.1v11.8M681.4,408v6.2M681.4,1031.1v6.2M745.5,408v12.3M745.5,1031.1v11.8M809.5,408v6.2M809.5,1031.1v6.2M873.6,408v12.3M873.6,1031.1v11.8M104.8,1031.1h-12.6M873.6,1031.1h-12.3M104.8,953.2h-5.8M873.6,953.2h-6M104.8,875.3h-12.6M873.6,875.3h-12.3M104.8,797.4h-5.8M873.6,797.4h-6M104.8,719.5h-12.6M873.6,719.5h-12.3M104.8,641.7h-5.8M873.6,641.7h-6M104.8,563.8h-12.6M873.6,563.8h-12.3M104.8,485.9h-5.8M873.6,485.9h-6M104.8,408h-12.6M873.6,408h-12.3"/>
</g>
<g>
<text transform="translate(105.1,1075.76) scale(1,1.036)" font-size="27.86" font-weight="normal" fill="#0a0a0a" text-anchor="middle" stroke="#0a0a0a" stroke-width="0.9" stroke-linejoin="round">0.1</text>
<text transform="translate(233.23,1075.76) scale(1,1.036)" font-size="27.86" font-weight="normal" fill="#0a0a0a" text-anchor="middle" stroke="#0a0a0a" stroke-width="0.9" stroke-linejoin="round">0.2</text>
<text transform="translate(361.37,1075.76) scale(1,1.036)" font-size="27.86" font-weight="normal" fill="#0a0a0a" text-anchor="middle" stroke="#0a0a0a" stroke-width="0.9" stroke-linejoin="round">0.3</text>
<text transform="translate(489.5,1075.76) scale(1,1.036)" font-size="27.86" font-weight="normal" fill="#0a0a0a" text-anchor="middle" stroke="#0a0a0a" stroke-width="0.9" stroke-linejoin="round">0.4</text>
<text transform="translate(617.63,1075.76) scale(1,1.036)" font-size="27.86" font-weight="normal" fill="#0a0a0a" text-anchor="middle" stroke="#0a0a0a" stroke-width="0.9" stroke-linejoin="round">0.5</text>
<text transform="translate(745.77,1075.76) scale(1,1.036)" font-size="27.86" font-weight="normal" fill="#0a0a0a" text-anchor="middle" stroke="#0a0a0a" stroke-width="0.9" stroke-linejoin="round">0.6</text>
<text transform="translate(873.9,1075.76) scale(1,1.036)" font-size="27.86" font-weight="normal" fill="#0a0a0a" text-anchor="middle" stroke="#0a0a0a" stroke-width="0.9" stroke-linejoin="round">0.7</text>
<text transform="translate(46.26,1040.67) scale(1,1.018)" font-size="27.25" font-weight="normal" fill="#0a0a0a" text-anchor="start" stroke="#0a0a0a" stroke-width="0.9" stroke-linejoin="round">0.1</text>
<text transform="translate(46.26,884.9) scale(1,1.018)" font-size="27.25" font-weight="normal" fill="#0a0a0a" text-anchor="start" stroke="#0a0a0a" stroke-width="0.9" stroke-linejoin="round">0.2</text>
<text transform="translate(46.26,729.12) scale(1,1.018)" font-size="27.25" font-weight="normal" fill="#0a0a0a" text-anchor="start" stroke="#0a0a0a" stroke-width="0.9" stroke-linejoin="round">0.3</text>
<text transform="translate(46.26,573.35) scale(1,1.018)" font-size="27.25" font-weight="normal" fill="#0a0a0a" text-anchor="start" stroke="#0a0a0a" stroke-width="0.9" stroke-linejoin="round">0.4</text>
<text transform="translate(46.26,417.57) scale(1,1.018)" font-size="27.25" font-weight="normal" fill="#0a0a0a" text-anchor="start" stroke="#0a0a0a" stroke-width="0.9" stroke-linejoin="round">0.5</text>
<text transform="translate(480.21,1125.3) scale(1,1.124)" font-size="29.15" font-weight="bold" fill="#0a0a0a" >X</text>
<text transform="translate(31.1,732.27) rotate(-90) scale(1,1.06)" font-size="33.49" font-weight="bold" fill="#0a0a0a">Y</text>
</g>
<g>
<rect x="647.3" y="887.1" width="192.4" height="110.5" fill="#fdfffd" stroke="#2a2a2a" stroke-width="1.6"/>
<polygon points="681.5,887.3 685.6,899.6 698.6,899.7 688.2,907.5 692.1,919.9 681.5,912.3 670.9,919.9 674.8,907.5 664.4,899.7 677.4,899.6" fill="#000" />
<text transform="translate(721.79,915.9) scale(1,0.983)" font-size="30.08" font-weight="normal" fill="#111" >HPF-CP</text>
<polygon points="681.5,923.2 685.6,935.5 698.6,935.6 688.2,943.4 692.1,955.8 681.5,948.2 670.9,955.8 674.8,943.4 664.4,935.6 677.4,935.5" fill="#ff0000" />
<text transform="translate(722.86,951.8) scale(1,1.007)" font-size="29.79" font-weight="normal" fill="#111" >SPS-CP</text>
<polygon points="681.5,958.3 685.6,970.6 698.6,970.7 688.2,978.5 692.1,990.9 681.5,983.3 670.9,990.9 674.8,978.5 664.4,970.7 677.4,970.6" fill="#0000ff" />
<text transform="translate(722.74,986.8) scale(1,1.03)" font-size="29.12" font-weight="normal" fill="#111" >GPS-CP</text>
</g>
<g>
<rect x="963.4" y="428.8" width="587.2" height="166.8" fill="#b4b4b8"/>
<rect x="963.4" y="430.0" width="586" height="164.2" fill="url(#bar)"/>
</g>
<rect x="963.4" y="430.0" width="586" height="164.2" fill="url(#bard)" mask="url(#dm)"/>
<g>
<text transform="translate(991.09,535.1) scale(1,1.032)" font-size="53.95" font-weight="bold" fill="#f0f0ff" stroke="#f0f0ff" stroke-width="4.6" stroke-linejoin="round" opacity="0.9" filter="url(#glow)">HPF</text><text transform="translate(991.09,535.1) scale(1,1.032)" font-size="53.95" font-weight="bold" fill="#000" >HPF</text>
<text transform="translate(1434.12,534.86) scale(1,1.024)" font-size="53.69" font-weight="bold" fill="#fffff0" stroke="#fffff0" stroke-width="4.6" stroke-linejoin="round" opacity="0.9" filter="url(#glow)">(91)</text><text transform="translate(1434.12,534.86) scale(1,1.024)" font-size="53.69" font-weight="bold" fill="#080808" >(91)</text>
</g>
<g>
<rect x="963.4" y="635.5" width="578.3" height="166.7" fill="#b4b4b8"/>
<rect x="963.4" y="636.7" width="577.1" height="164.1" fill="url(#bar)"/>
</g>
<rect x="963.4" y="636.7" width="577.1" height="164.1" fill="url(#bard)" mask="url(#dm)"/>
<g>
<text transform="translate(991.57,740.8) scale(1,1.101)" font-size="54.26" font-weight="bold" fill="#f0f0ff" stroke="#f0f0ff" stroke-width="4.6" stroke-linejoin="round" opacity="0.9" filter="url(#glow)">SPS</text><text transform="translate(991.57,740.8) scale(1,1.101)" font-size="54.26" font-weight="bold" fill="#ff0000" >SPS</text>
<text transform="translate(1373.1,739.43) scale(1,1.022)" font-size="53.92" font-weight="bold" fill="#fffff0" stroke="#fffff0" stroke-width="4.6" stroke-linejoin="round" opacity="0.9" filter="url(#glow)">(89.5)</text><text transform="translate(1373.1,739.43) scale(1,1.022)" font-size="53.92" font-weight="bold" fill="#080808" >(89.5)</text>
</g>
<g>
<rect x="963.4" y="843" width="444.9" height="166.5" fill="#b4b4b8"/>
<rect x="963.4" y="844.2" width="443.7" height="163.9" fill="url(#bar)"/>
</g>
<rect x="963.4" y="844.2" width="443.7" height="163.9" fill="url(#bard)" mask="url(#dm)"/>
<g>
<text transform="translate(991.52,944.52) scale(1,1.066)" font-size="54.45" font-weight="bold" fill="#f0f0ff" stroke="#f0f0ff" stroke-width="4.6" stroke-linejoin="round" opacity="0.9" filter="url(#glow)">GPS</text><text transform="translate(991.52,944.52) scale(1,1.066)" font-size="54.45" font-weight="bold" fill="#0000ff" >GPS</text>
<text transform="translate(1293.79,944.61) scale(1,1.037)" font-size="54.17" font-weight="bold" fill="#fffff0" stroke="#fffff0" stroke-width="4.6" stroke-linejoin="round" opacity="0.9" filter="url(#glow)">(69)</text><text transform="translate(1293.79,944.61) scale(1,1.037)" font-size="54.17" font-weight="bold" fill="#080808" >(69)</text>
</g>
<g stroke="#141414" stroke-width="2.1" fill="none">
<rect x="963.4" y="408.1" width="777.2" height="623.8"/>
<path stroke-width="2.2" d="M963.4,408.1v12.9M963.4,1031.9v13.2M976.4,408.1v6.4M976.4,1031.9v6.6M989.3,408.1v6.4M989.3,1031.9v6.6M1002.3,408.1v6.4M1002.3,1031.9v6.6M1015.2,408.1v6.4M1015.2,1031.9v6.6M1028.2,408.1v12.9M1028.2,1031.9v13.2M1041.1,408.1v6.4M1041.1,1031.9v6.6M1054.1,408.1v6.4M1054.1,1031.9v6.6M1067,408.1v6.4M1067,1031.9v6.6M1080,408.1v6.4M1080,1031.9v6.6M1092.9,408.1v12.9M1092.9,1031.9v13.2M1105.9,408.1v6.4M1105.9,1031.9v6.6M1118.8,408.1v6.4M1118.8,1031.9v6.6M1131.8,408.1v6.4M1131.8,1031.9v6.6M1144.7,408.1v6.4M1144.7,1031.9v6.6M1157.7,408.1v12.9M1157.7,1031.9v13.2M1170.7,408.1v6.4M1170.7,1031.9v6.6M1183.6,408.1v6.4M1183.6,1031.9v6.6M1196.6,408.1v6.4M1196.6,1031.9v6.6M1209.5,408.1v6.4M1209.5,1031.9v6.6M1222.5,408.1v12.9M1222.5,1031.9v13.2M1235.4,408.1v6.4M1235.4,1031.9v6.6M1248.4,408.1v6.4M1248.4,1031.9v6.6M1261.3,408.1v6.4M1261.3,1031.9v6.6M1274.3,408.1v6.4M1274.3,1031.9v6.6M1287.2,408.1v12.9M1287.2,1031.9v13.2M1300.2,408.1v6.4M1300.2,1031.9v6.6M1313.1,408.1v6.4M1313.1,1031.9v6.6M1326.1,408.1v6.4M1326.1,1031.9v6.6M1339,408.1v6.4M1339,1031.9v6.6M1352,408.1v12.9M1352,1031.9v13.2M1365,408.1v6.4M1365,1031.9v6.6M1377.9,408.1v6.4M1377.9,1031.9v6.6M1390.9,408.1v6.4M1390.9,1031.9v6.6M1403.8,408.1v6.4M1403.8,1031.9v6.6M1416.8,408.1v12.9M1416.8,1031.9v13.2M1429.7,408.1v6.4M1429.7,1031.9v6.6M1442.7,408.1v6.4M1442.7,1031.9v6.6M1455.6,408.1v6.4M1455.6,1031.9v6.6M1468.6,408.1v6.4M1468.6,1031.9v6.6M1481.5,408.1v12.9M1481.5,1031.9v13.2M1494.5,408.1v6.4M1494.5,1031.9v6.6M1507.4,408.1v6.4M1507.4,1031.9v6.6M1520.4,408.1v6.4M1520.4,1031.9v6.6M1533.3,408.1v6.4M1533.3,1031.9v6.6M1546.3,408.1v12.9M1546.3,1031.9v13.2M1559.3,408.1v6.4M1559.3,1031.9v6.6M1572.2,408.1v6.4M1572.2,1031.9v6.6M1585.2,408.1v6.4M1585.2,1031.9v6.6M1598.1,408.1v6.4M1598.1,1031.9v6.6M1611.1,408.1v12.9M1611.1,1031.9v13.2M1624,408.1v6.4M1624,1031.9v6.6M1637,408.1v6.4M1637,1031.9v6.6M1649.9,408.1v6.4M1649.9,1031.9v6.6M1662.9,408.1v6.4M1662.9,1031.9v6.6M1675.8,408.1v12.9M1675.8,1031.9v13.2M1688.8,408.1v6.4M1688.8,1031.9v6.6M1701.7,408.1v6.4M1701.7,1031.9v6.6M1714.7,408.1v6.4M1714.7,1031.9v6.6M1727.6,408.1v6.4M1727.6,1031.9v6.6M1740.6,408.1v12.9M1740.6,1031.9v13.2"/>
</g>
<g>
<text transform="translate(961.7,1078.38) scale(1,0.993)" font-size="32.06" font-weight="normal" fill="#0a0a0a" text-anchor="middle" stroke="#0a0a0a" stroke-width="1.0" stroke-linejoin="round">0</text>
<text transform="translate(1026.47,1078.38) scale(1,0.993)" font-size="32.06" font-weight="normal" fill="#0a0a0a" text-anchor="middle" stroke="#0a0a0a" stroke-width="1.0" stroke-linejoin="round">10</text>
<text transform="translate(1091.23,1078.38) scale(1,0.993)" font-size="32.06" font-weight="normal" fill="#0a0a0a" text-anchor="middle" stroke="#0a0a0a" stroke-width="1.0" stroke-linejoin="round">20</text>
<text transform="translate(1156,1078.38) scale(1,0.993)" font-size="32.06" font-weight="normal" fill="#0a0a0a" text-anchor="middle" stroke="#0a0a0a" stroke-width="1.0" stroke-linejoin="round">30</text>
<text transform="translate(1220.77,1078.38) scale(1,0.993)" font-size="32.06" font-weight="normal" fill="#0a0a0a" text-anchor="middle" stroke="#0a0a0a" stroke-width="1.0" stroke-linejoin="round">40</text>
<text transform="translate(1285.53,1078.38) scale(1,0.993)" font-size="32.06" font-weight="normal" fill="#0a0a0a" text-anchor="middle" stroke="#0a0a0a" stroke-width="1.0" stroke-linejoin="round">50</text>
<text transform="translate(1350.3,1078.38) scale(1,0.993)" font-size="32.06" font-weight="normal" fill="#0a0a0a" text-anchor="middle" stroke="#0a0a0a" stroke-width="1.0" stroke-linejoin="round">60</text>
<text transform="translate(1415.07,1078.38) scale(1,0.993)" font-size="32.06" font-weight="normal" fill="#0a0a0a" text-anchor="middle" stroke="#0a0a0a" stroke-width="1.0" stroke-linejoin="round">70</text>
<text transform="translate(1479.83,1078.38) scale(1,0.993)" font-size="32.06" font-weight="normal" fill="#0a0a0a" text-anchor="middle" stroke="#0a0a0a" stroke-width="1.0" stroke-linejoin="round">80</text>
<text transform="translate(1544.6,1078.38) scale(1,0.993)" font-size="32.06" font-weight="normal" fill="#0a0a0a" text-anchor="middle" stroke="#0a0a0a" stroke-width="1.0" stroke-linejoin="round">90</text>
<text transform="translate(1609.37,1078.38) scale(1,0.993)" font-size="32.06" font-weight="normal" fill="#0a0a0a" text-anchor="middle" stroke="#0a0a0a" stroke-width="1.0" stroke-linejoin="round">100</text>
<text transform="translate(1674.13,1078.38) scale(1,0.993)" font-size="32.06" font-weight="normal" fill="#0a0a0a" text-anchor="middle" stroke="#0a0a0a" stroke-width="1.0" stroke-linejoin="round">110</text>
<text transform="translate(1738.9,1078.38) scale(1,0.993)" font-size="32.06" font-weight="normal" fill="#0a0a0a" text-anchor="middle" stroke="#0a0a0a" stroke-width="1.0" stroke-linejoin="round">120</text>
<text transform="translate(1133.12,1146.3) scale(1,0.975)" font-size="47.39" font-weight="bold" fill="#0a0a0a" stroke="#fff" stroke-width=".9">Luminous Flux (lm)</text>
<text transform="translate(1638.23,478.83) scale(1,1.008)" font-size="49.42" font-weight="bold" fill="#000" stroke="#fff" stroke-width=".6">(c)</text>
</g>
</g></defs>
<use href="#A" filter="url(#gb)"/>
<use href="#A" opacity="0.5"/>
</svg>
</div>
</body></html>
